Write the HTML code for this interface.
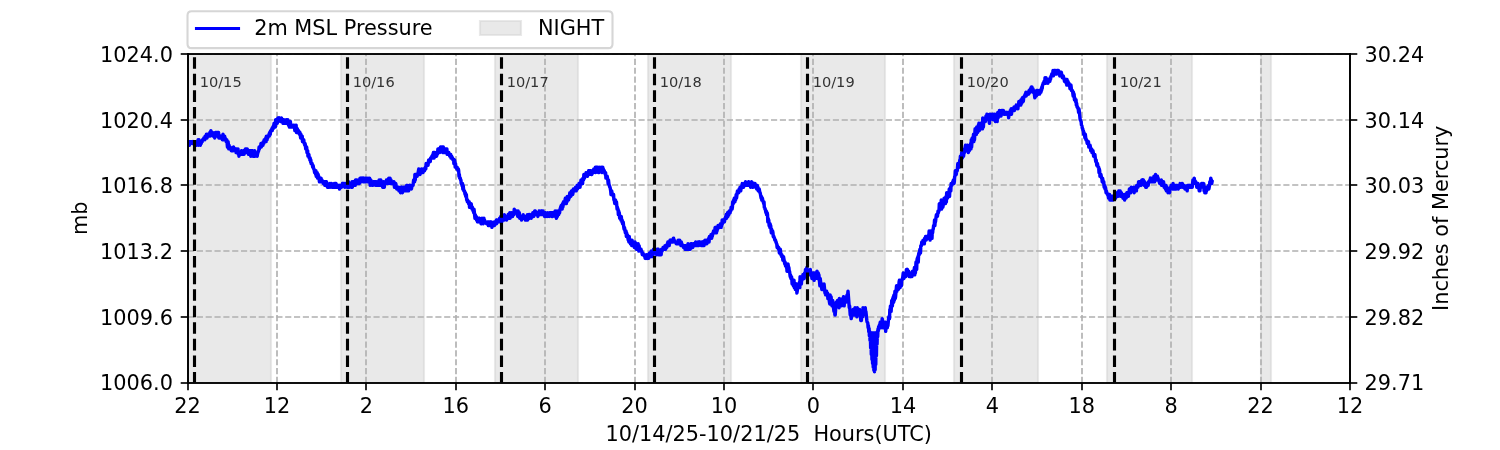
<!DOCTYPE html>
<html><head><meta charset="utf-8"><title>2m MSL Pressure</title>
<style>html,body{margin:0;padding:0;background:#fff;width:1500px;height:450px;overflow:hidden}svg{display:block;will-change:transform}
svg text{white-space:pre;font-family:"DejaVu Sans","Liberation Sans",sans-serif}</style></head>
<body>
<svg width="1500" height="450" viewBox="0 0 720 216" version="1.1">
 
 <defs>
  <style type="text/css">*{stroke-linejoin: round; stroke-linecap: butt}</style>
 </defs>
 <g id="figure_1">
  <g id="patch_1">
   <path d="M 0 216 L 720 216 L 720 0 L 0 0 z" style="fill: #ffffff"/>
  </g>
  <g id="axes_1">
   <g id="patch_2">
    <path d="M 90.24 183.84 L 648 183.84 L 648 25.92 L 90.24 25.92 z" style="fill: #ffffff"/>
   </g>
   <g id="patch_3">
    <path d="M 86.88 183.84 L 130.08 183.84 L 130.08 25.92 L 86.88 25.92 z" clip-path="url(#pb94ecb44f5)" style="fill: #d3d3d3; fill-opacity: 0.5; stroke: #d3d3d3; stroke-opacity: 0.5; stroke-linejoin: miter"/>
   </g>
   <g id="patch_4">
    <path d="M 163.68 183.84 L 203.52 183.84 L 203.52 25.92 L 163.68 25.92 z" clip-path="url(#pb94ecb44f5)" style="fill: #d3d3d3; fill-opacity: 0.5; stroke: #d3d3d3; stroke-opacity: 0.5; stroke-linejoin: miter"/>
   </g>
   <g id="patch_5">
    <path d="M 237.6 183.84 L 277.44 183.84 L 277.44 25.92 L 237.6 25.92 z" clip-path="url(#pb94ecb44f5)" style="fill: #d3d3d3; fill-opacity: 0.5; stroke: #d3d3d3; stroke-opacity: 0.5; stroke-linejoin: miter"/>
   </g>
   <g id="patch_6">
    <path d="M 311.04 183.84 L 350.88 183.84 L 350.88 25.92 L 311.04 25.92 z" clip-path="url(#pb94ecb44f5)" style="fill: #d3d3d3; fill-opacity: 0.5; stroke: #d3d3d3; stroke-opacity: 0.5; stroke-linejoin: miter"/>
   </g>
   <g id="patch_7">
    <path d="M 384.48 183.84 L 424.8 183.84 L 424.8 25.92 L 384.48 25.92 z" clip-path="url(#pb94ecb44f5)" style="fill: #d3d3d3; fill-opacity: 0.5; stroke: #d3d3d3; stroke-opacity: 0.5; stroke-linejoin: miter"/>
   </g>
   <g id="patch_8">
    <path d="M 457.92 183.84 L 498.24 183.84 L 498.24 25.92 L 457.92 25.92 z" clip-path="url(#pb94ecb44f5)" style="fill: #d3d3d3; fill-opacity: 0.5; stroke: #d3d3d3; stroke-opacity: 0.5; stroke-linejoin: miter"/>
   </g>
   <g id="patch_9">
    <path d="M 531.36 183.84 L 572.16 183.84 L 572.16 25.92 L 531.36 25.92 z" clip-path="url(#pb94ecb44f5)" style="fill: #d3d3d3; fill-opacity: 0.5; stroke: #d3d3d3; stroke-opacity: 0.5; stroke-linejoin: miter"/>
   </g>
   <g id="patch_10">
    <path d="M 605.28 183.84 L 610.08 183.84 L 610.08 25.92 L 605.28 25.92 z" clip-path="url(#pb94ecb44f5)" style="fill: #d3d3d3; fill-opacity: 0.5; stroke: #d3d3d3; stroke-opacity: 0.5; stroke-linejoin: miter"/>
   </g>
   <g id="matplotlib.axis_1">
    <g id="xtick_1">
     <g id="line2d_1">
      <path d="M 90.24 183.84 L 90.24 25.92" clip-path="url(#pb94ecb44f5)" style="fill: none; stroke-dasharray: 2.96,1.28; stroke-dashoffset: 0; stroke: #b0b0b0; stroke-width: 0.8"/>
     </g>
     <g id="line2d_2">
      <defs>
       <path id="m1504cfccaf" d="M 0 0 
L 0 3.5 
" style="stroke: #000000; stroke-width: 0.8"/>
      </defs>
      <g>
       <use href="#m1504cfccaf" x="90.24" y="183.84" style="stroke: #000000; stroke-width: 0.8"/>
      </g>
     </g>
     <g id="text_1">
      <text style="font-size: 10px; font-family: 'DejaVu Sans', 'Bitstream Vera Sans', 'Computer Modern Sans Serif', 'Lucida Grande', 'Verdana', 'Geneva', 'Lucid', 'Arial', 'Helvetica', 'Avant Garde', sans-serif; text-anchor: middle" x="90" y="198.198438" transform="rotate(-0 90 198.198438)">22</text>
     </g>
    </g>
    <g id="xtick_2">
     <g id="line2d_3">
      <path d="M 132.96 183.84 L 132.96 25.92" clip-path="url(#pb94ecb44f5)" style="fill: none; stroke-dasharray: 2.96,1.28; stroke-dashoffset: 0; stroke: #b0b0b0; stroke-width: 0.8"/>
     </g>
     <g id="line2d_4">
      <g>
       <use href="#m1504cfccaf" x="132.96" y="183.84" style="stroke: #000000; stroke-width: 0.8"/>
      </g>
     </g>
     <g id="text_2">
      <text style="font-size: 10px; font-family: 'DejaVu Sans', 'Bitstream Vera Sans', 'Computer Modern Sans Serif', 'Lucida Grande', 'Verdana', 'Geneva', 'Lucid', 'Arial', 'Helvetica', 'Avant Garde', sans-serif; text-anchor: middle" x="132.923077" y="198.198438" transform="rotate(-0 132.923077 198.198438)">12</text>
     </g>
    </g>
    <g id="xtick_3">
     <g id="line2d_5">
      <path d="M 175.68 183.84 L 175.68 25.92" clip-path="url(#pb94ecb44f5)" style="fill: none; stroke-dasharray: 2.96,1.28; stroke-dashoffset: 0; stroke: #b0b0b0; stroke-width: 0.8"/>
     </g>
     <g id="line2d_6">
      <g>
       <use href="#m1504cfccaf" x="175.68" y="183.84" style="stroke: #000000; stroke-width: 0.8"/>
      </g>
     </g>
     <g id="text_3">
      <text style="font-size: 10px; font-family: 'DejaVu Sans', 'Bitstream Vera Sans', 'Computer Modern Sans Serif', 'Lucida Grande', 'Verdana', 'Geneva', 'Lucid', 'Arial', 'Helvetica', 'Avant Garde', sans-serif; text-anchor: middle" x="175.846154" y="198.198438" transform="rotate(-0 175.846154 198.198438)">2</text>
     </g>
    </g>
    <g id="xtick_4">
     <g id="line2d_7">
      <path d="M 218.88 183.84 L 218.88 25.92" clip-path="url(#pb94ecb44f5)" style="fill: none; stroke-dasharray: 2.96,1.28; stroke-dashoffset: 0; stroke: #b0b0b0; stroke-width: 0.8"/>
     </g>
     <g id="line2d_8">
      <g>
       <use href="#m1504cfccaf" x="218.88" y="183.84" style="stroke: #000000; stroke-width: 0.8"/>
      </g>
     </g>
     <g id="text_4">
      <text style="font-size: 10px; font-family: 'DejaVu Sans', 'Bitstream Vera Sans', 'Computer Modern Sans Serif', 'Lucida Grande', 'Verdana', 'Geneva', 'Lucid', 'Arial', 'Helvetica', 'Avant Garde', sans-serif; text-anchor: middle" x="218.769231" y="198.198438" transform="rotate(-0 218.769231 198.198438)">16</text>
     </g>
    </g>
    <g id="xtick_5">
     <g id="line2d_9">
      <path d="M 261.6 183.84 L 261.6 25.92" clip-path="url(#pb94ecb44f5)" style="fill: none; stroke-dasharray: 2.96,1.28; stroke-dashoffset: 0; stroke: #b0b0b0; stroke-width: 0.8"/>
     </g>
     <g id="line2d_10">
      <g>
       <use href="#m1504cfccaf" x="261.6" y="183.84" style="stroke: #000000; stroke-width: 0.8"/>
      </g>
     </g>
     <g id="text_5">
      <text style="font-size: 10px; font-family: 'DejaVu Sans', 'Bitstream Vera Sans', 'Computer Modern Sans Serif', 'Lucida Grande', 'Verdana', 'Geneva', 'Lucid', 'Arial', 'Helvetica', 'Avant Garde', sans-serif; text-anchor: middle" x="261.692308" y="198.198438" transform="rotate(-0 261.692308 198.198438)">6</text>
     </g>
    </g>
    <g id="xtick_6">
     <g id="line2d_11">
      <path d="M 304.8 183.84 L 304.8 25.92" clip-path="url(#pb94ecb44f5)" style="fill: none; stroke-dasharray: 2.96,1.28; stroke-dashoffset: 0; stroke: #b0b0b0; stroke-width: 0.8"/>
     </g>
     <g id="line2d_12">
      <g>
       <use href="#m1504cfccaf" x="304.8" y="183.84" style="stroke: #000000; stroke-width: 0.8"/>
      </g>
     </g>
     <g id="text_6">
      <text style="font-size: 10px; font-family: 'DejaVu Sans', 'Bitstream Vera Sans', 'Computer Modern Sans Serif', 'Lucida Grande', 'Verdana', 'Geneva', 'Lucid', 'Arial', 'Helvetica', 'Avant Garde', sans-serif; text-anchor: middle" x="304.615385" y="198.198438" transform="rotate(-0 304.615385 198.198438)">20</text>
     </g>
    </g>
    <g id="xtick_7">
     <g id="line2d_13">
      <path d="M 347.52 183.84 L 347.52 25.92" clip-path="url(#pb94ecb44f5)" style="fill: none; stroke-dasharray: 2.96,1.28; stroke-dashoffset: 0; stroke: #b0b0b0; stroke-width: 0.8"/>
     </g>
     <g id="line2d_14">
      <g>
       <use href="#m1504cfccaf" x="347.52" y="183.84" style="stroke: #000000; stroke-width: 0.8"/>
      </g>
     </g>
     <g id="text_7">
      <text style="font-size: 10px; font-family: 'DejaVu Sans', 'Bitstream Vera Sans', 'Computer Modern Sans Serif', 'Lucida Grande', 'Verdana', 'Geneva', 'Lucid', 'Arial', 'Helvetica', 'Avant Garde', sans-serif; text-anchor: middle" x="347.538462" y="198.198438" transform="rotate(-0 347.538462 198.198438)">10</text>
     </g>
    </g>
    <g id="xtick_8">
     <g id="line2d_15">
      <path d="M 390.24 183.84 L 390.24 25.92" clip-path="url(#pb94ecb44f5)" style="fill: none; stroke-dasharray: 2.96,1.28; stroke-dashoffset: 0; stroke: #b0b0b0; stroke-width: 0.8"/>
     </g>
     <g id="line2d_16">
      <g>
       <use href="#m1504cfccaf" x="390.24" y="183.84" style="stroke: #000000; stroke-width: 0.8"/>
      </g>
     </g>
     <g id="text_8">
      <text style="font-size: 10px; font-family: 'DejaVu Sans', 'Bitstream Vera Sans', 'Computer Modern Sans Serif', 'Lucida Grande', 'Verdana', 'Geneva', 'Lucid', 'Arial', 'Helvetica', 'Avant Garde', sans-serif; text-anchor: middle" x="390.461538" y="198.198438" transform="rotate(-0 390.461538 198.198438)">0</text>
     </g>
    </g>
    <g id="xtick_9">
     <g id="line2d_17">
      <path d="M 433.44 183.84 L 433.44 25.92" clip-path="url(#pb94ecb44f5)" style="fill: none; stroke-dasharray: 2.96,1.28; stroke-dashoffset: 0; stroke: #b0b0b0; stroke-width: 0.8"/>
     </g>
     <g id="line2d_18">
      <g>
       <use href="#m1504cfccaf" x="433.44" y="183.84" style="stroke: #000000; stroke-width: 0.8"/>
      </g>
     </g>
     <g id="text_9">
      <text style="font-size: 10px; font-family: 'DejaVu Sans', 'Bitstream Vera Sans', 'Computer Modern Sans Serif', 'Lucida Grande', 'Verdana', 'Geneva', 'Lucid', 'Arial', 'Helvetica', 'Avant Garde', sans-serif; text-anchor: middle" x="433.384615" y="198.198438" transform="rotate(-0 433.384615 198.198438)">14</text>
     </g>
    </g>
    <g id="xtick_10">
     <g id="line2d_19">
      <path d="M 476.16 183.84 L 476.16 25.92" clip-path="url(#pb94ecb44f5)" style="fill: none; stroke-dasharray: 2.96,1.28; stroke-dashoffset: 0; stroke: #b0b0b0; stroke-width: 0.8"/>
     </g>
     <g id="line2d_20">
      <g>
       <use href="#m1504cfccaf" x="476.16" y="183.84" style="stroke: #000000; stroke-width: 0.8"/>
      </g>
     </g>
     <g id="text_10">
      <text style="font-size: 10px; font-family: 'DejaVu Sans', 'Bitstream Vera Sans', 'Computer Modern Sans Serif', 'Lucida Grande', 'Verdana', 'Geneva', 'Lucid', 'Arial', 'Helvetica', 'Avant Garde', sans-serif; text-anchor: middle" x="476.307692" y="198.198438" transform="rotate(-0 476.307692 198.198438)">4</text>
     </g>
    </g>
    <g id="xtick_11">
     <g id="line2d_21">
      <path d="M 519.36 183.84 L 519.36 25.92" clip-path="url(#pb94ecb44f5)" style="fill: none; stroke-dasharray: 2.96,1.28; stroke-dashoffset: 0; stroke: #b0b0b0; stroke-width: 0.8"/>
     </g>
     <g id="line2d_22">
      <g>
       <use href="#m1504cfccaf" x="519.36" y="183.84" style="stroke: #000000; stroke-width: 0.8"/>
      </g>
     </g>
     <g id="text_11">
      <text style="font-size: 10px; font-family: 'DejaVu Sans', 'Bitstream Vera Sans', 'Computer Modern Sans Serif', 'Lucida Grande', 'Verdana', 'Geneva', 'Lucid', 'Arial', 'Helvetica', 'Avant Garde', sans-serif; text-anchor: middle" x="519.230769" y="198.198438" transform="rotate(-0 519.230769 198.198438)">18</text>
     </g>
    </g>
    <g id="xtick_12">
     <g id="line2d_23">
      <path d="M 562.08 183.84 L 562.08 25.92" clip-path="url(#pb94ecb44f5)" style="fill: none; stroke-dasharray: 2.96,1.28; stroke-dashoffset: 0; stroke: #b0b0b0; stroke-width: 0.8"/>
     </g>
     <g id="line2d_24">
      <g>
       <use href="#m1504cfccaf" x="562.08" y="183.84" style="stroke: #000000; stroke-width: 0.8"/>
      </g>
     </g>
     <g id="text_12">
      <text style="font-size: 10px; font-family: 'DejaVu Sans', 'Bitstream Vera Sans', 'Computer Modern Sans Serif', 'Lucida Grande', 'Verdana', 'Geneva', 'Lucid', 'Arial', 'Helvetica', 'Avant Garde', sans-serif; text-anchor: middle" x="562.153846" y="198.198438" transform="rotate(-0 562.153846 198.198438)">8</text>
     </g>
    </g>
    <g id="xtick_13">
     <g id="line2d_25">
      <path d="M 605.28 183.84 L 605.28 25.92" clip-path="url(#pb94ecb44f5)" style="fill: none; stroke-dasharray: 2.96,1.28; stroke-dashoffset: 0; stroke: #b0b0b0; stroke-width: 0.8"/>
     </g>
     <g id="line2d_26">
      <g>
       <use href="#m1504cfccaf" x="605.28" y="183.84" style="stroke: #000000; stroke-width: 0.8"/>
      </g>
     </g>
     <g id="text_13">
      <text style="font-size: 10px; font-family: 'DejaVu Sans', 'Bitstream Vera Sans', 'Computer Modern Sans Serif', 'Lucida Grande', 'Verdana', 'Geneva', 'Lucid', 'Arial', 'Helvetica', 'Avant Garde', sans-serif; text-anchor: middle" x="605.076923" y="198.198438" transform="rotate(-0 605.076923 198.198438)">22</text>
     </g>
    </g>
    <g id="xtick_14">
     <g id="line2d_27">
      <path d="M 648 183.84 L 648 25.92" clip-path="url(#pb94ecb44f5)" style="fill: none; stroke-dasharray: 2.96,1.28; stroke-dashoffset: 0; stroke: #b0b0b0; stroke-width: 0.8"/>
     </g>
     <g id="line2d_28">
      <g>
       <use href="#m1504cfccaf" x="648" y="183.84" style="stroke: #000000; stroke-width: 0.8"/>
      </g>
     </g>
     <g id="text_14">
      <text style="font-size: 10px; font-family: 'DejaVu Sans', 'Bitstream Vera Sans', 'Computer Modern Sans Serif', 'Lucida Grande', 'Verdana', 'Geneva', 'Lucid', 'Arial', 'Helvetica', 'Avant Garde', sans-serif; text-anchor: middle" x="648" y="198.198438" transform="rotate(-0 648 198.198438)">12</text>
     </g>
    </g>
    <g id="text_15">
     <text style="font-size: 10px; font-family: 'DejaVu Sans', 'Bitstream Vera Sans', 'Computer Modern Sans Serif', 'Lucida Grande', 'Verdana', 'Geneva', 'Lucid', 'Arial', 'Helvetica', 'Avant Garde', sans-serif; text-anchor: middle" x="369" y="211.876563" transform="rotate(-0 369 211.876563)">10/14/25-10/21/25  Hours(UTC)</text>
    </g>
   </g>
   <g id="matplotlib.axis_2">
    <g id="ytick_1">
     <g id="line2d_29">
      <path d="M 90.24 183.84 L 648 183.84" clip-path="url(#pb94ecb44f5)" style="fill: none; stroke-dasharray: 2.96,1.28; stroke-dashoffset: 0; stroke: #b0b0b0; stroke-width: 0.8"/>
     </g>
     <g id="line2d_30">
      <defs>
       <path id="m5d545ce8f8" d="M 0 0 
L -3.5 0 
" style="stroke: #000000; stroke-width: 0.8"/>
      </defs>
      <g>
       <use href="#m5d545ce8f8" x="90.24" y="183.84" style="stroke: #000000; stroke-width: 0.8"/>
      </g>
     </g>
     <g id="text_16">
      <text style="font-size: 10px; font-family: 'DejaVu Sans', 'Bitstream Vera Sans', 'Computer Modern Sans Serif', 'Lucida Grande', 'Verdana', 'Geneva', 'Lucid', 'Arial', 'Helvetica', 'Avant Garde', sans-serif; text-anchor: end" x="83" y="187.399219" transform="rotate(-0 83 187.399219)">1006.0</text>
     </g>
    </g>
    <g id="ytick_2">
     <g id="line2d_31">
      <path d="M 90.24 152.16 L 648 152.16" clip-path="url(#pb94ecb44f5)" style="fill: none; stroke-dasharray: 2.96,1.28; stroke-dashoffset: 0; stroke: #b0b0b0; stroke-width: 0.8"/>
     </g>
     <g id="line2d_32">
      <g>
       <use href="#m5d545ce8f8" x="90.24" y="152.16" style="stroke: #000000; stroke-width: 0.8"/>
      </g>
     </g>
     <g id="text_17">
      <text style="font-size: 10px; font-family: 'DejaVu Sans', 'Bitstream Vera Sans', 'Computer Modern Sans Serif', 'Lucida Grande', 'Verdana', 'Geneva', 'Lucid', 'Arial', 'Helvetica', 'Avant Garde', sans-serif; text-anchor: end" x="83" y="155.863219" transform="rotate(-0 83 155.863219)">1009.6</text>
     </g>
    </g>
    <g id="ytick_3">
     <g id="line2d_33">
      <path d="M 90.24 120.48 L 648 120.48" clip-path="url(#pb94ecb44f5)" style="fill: none; stroke-dasharray: 2.96,1.28; stroke-dashoffset: 0; stroke: #b0b0b0; stroke-width: 0.8"/>
     </g>
     <g id="line2d_34">
      <g>
       <use href="#m5d545ce8f8" x="90.24" y="120.48" style="stroke: #000000; stroke-width: 0.8"/>
      </g>
     </g>
     <g id="text_18">
      <text style="font-size: 10px; font-family: 'DejaVu Sans', 'Bitstream Vera Sans', 'Computer Modern Sans Serif', 'Lucida Grande', 'Verdana', 'Geneva', 'Lucid', 'Arial', 'Helvetica', 'Avant Garde', sans-serif; text-anchor: end" x="83" y="124.327219" transform="rotate(-0 83 124.327219)">1013.2</text>
     </g>
    </g>
    <g id="ytick_4">
     <g id="line2d_35">
      <path d="M 90.24 88.8 L 648 88.8" clip-path="url(#pb94ecb44f5)" style="fill: none; stroke-dasharray: 2.96,1.28; stroke-dashoffset: 0; stroke: #b0b0b0; stroke-width: 0.8"/>
     </g>
     <g id="line2d_36">
      <g>
       <use href="#m5d545ce8f8" x="90.24" y="88.8" style="stroke: #000000; stroke-width: 0.8"/>
      </g>
     </g>
     <g id="text_19">
      <text style="font-size: 10px; font-family: 'DejaVu Sans', 'Bitstream Vera Sans', 'Computer Modern Sans Serif', 'Lucida Grande', 'Verdana', 'Geneva', 'Lucid', 'Arial', 'Helvetica', 'Avant Garde', sans-serif; text-anchor: end" x="83" y="92.791219" transform="rotate(-0 83 92.791219)">1016.8</text>
     </g>
    </g>
    <g id="ytick_5">
     <g id="line2d_37">
      <path d="M 90.24 57.6 L 648 57.6" clip-path="url(#pb94ecb44f5)" style="fill: none; stroke-dasharray: 2.96,1.28; stroke-dashoffset: 0; stroke: #b0b0b0; stroke-width: 0.8"/>
     </g>
     <g id="line2d_38">
      <g>
       <use href="#m5d545ce8f8" x="90.24" y="57.6" style="stroke: #000000; stroke-width: 0.8"/>
      </g>
     </g>
     <g id="text_20">
      <text style="font-size: 10px; font-family: 'DejaVu Sans', 'Bitstream Vera Sans', 'Computer Modern Sans Serif', 'Lucida Grande', 'Verdana', 'Geneva', 'Lucid', 'Arial', 'Helvetica', 'Avant Garde', sans-serif; text-anchor: end" x="83" y="61.255219" transform="rotate(-0 83 61.255219)">1020.4</text>
     </g>
    </g>
    <g id="ytick_6">
     <g id="line2d_39">
      <path d="M 90.24 25.92 L 648 25.92" clip-path="url(#pb94ecb44f5)" style="fill: none; stroke-dasharray: 2.96,1.28; stroke-dashoffset: 0; stroke: #b0b0b0; stroke-width: 0.8"/>
     </g>
     <g id="line2d_40">
      <g>
       <use href="#m5d545ce8f8" x="90.24" y="25.92" style="stroke: #000000; stroke-width: 0.8"/>
      </g>
     </g>
     <g id="text_21">
      <text style="font-size: 10px; font-family: 'DejaVu Sans', 'Bitstream Vera Sans', 'Computer Modern Sans Serif', 'Lucida Grande', 'Verdana', 'Geneva', 'Lucid', 'Arial', 'Helvetica', 'Avant Garde', sans-serif; text-anchor: end" x="83" y="29.719219" transform="rotate(-0 83 29.719219)">1024.0</text>
     </g>
    </g>
    <g id="text_22">
     <text style="font-size: 10px; font-family: 'DejaVu Sans', 'Bitstream Vera Sans', 'Computer Modern Sans Serif', 'Lucida Grande', 'Verdana', 'Geneva', 'Lucid', 'Arial', 'Helvetica', 'Avant Garde', sans-serif; text-anchor: middle" x="41.929688" y="104.76" transform="rotate(-90 41.929688 104.76)">mb</text>
    </g>
   </g>
   <g id="line2d_41">
    <path d="M 90.480207 67.968 
L 90.7868 67.968 
L 90.940097 69.72 
L 91.093393 67.968 
L 91.24669 67.968 
L 91.399987 68.844 
L 91.553283 67.968 
L 92.16647 67.968 
L 92.319767 68.844 
L 92.62636 68.844 
L 92.779657 67.968 
L 92.932954 68.844 
L 93.699437 68.844 
L 93.852734 67.968 
L 94.006031 67.968 
L 94.159327 69.72 
L 94.312624 69.72 
L 94.465921 68.844 
L 94.925811 68.844 
L 95.079108 67.092 
L 95.232404 69.72 
L 95.385701 68.844 
L 95.538998 67.092 
L 95.692294 67.968 
L 95.845591 67.968 
L 96.152185 69.72 
L 96.305481 67.968 
L 96.458778 67.968 
L 96.612075 68.844 
L 96.765371 67.968 
L 97.071965 67.968 
L 97.225261 67.092 
L 97.685152 67.092 
L 97.838448 66.216 
L 98.145042 66.216 
L 98.298338 67.092 
L 98.451635 65.34 
L 98.604932 66.216 
L 98.758229 65.34 
L 98.911525 66.216 
L 99.064822 64.464 
L 99.371415 66.216 
L 99.524712 65.34 
L 99.678009 65.34 
L 99.831305 64.464 
L 99.984602 65.34 
L 100.137899 65.34 
L 100.291196 64.464 
L 100.597789 64.464 
L 100.751086 63.588 
L 100.904382 65.34 
L 101.210976 62.712 
L 101.364272 64.464 
L 101.517569 64.464 
L 101.670866 63.588 
L 101.824163 64.464 
L 101.977459 63.588 
L 102.284053 65.34 
L 102.437349 64.464 
L 102.590646 65.34 
L 102.743943 64.464 
L 102.89724 64.464 
L 103.050536 66.216 
L 103.203833 65.34 
L 103.35713 63.588 
L 103.510426 63.588 
L 103.663723 65.34 
L 103.970316 63.588 
L 104.27691 63.588 
L 104.430207 64.464 
L 104.7368 64.464 
L 104.890097 63.588 
L 105.043393 66.216 
L 105.19669 65.34 
L 105.349987 65.34 
L 105.503283 66.216 
L 105.65658 65.34 
L 105.809877 66.216 
L 105.963174 65.34 
L 106.11647 66.216 
L 106.269767 65.34 
L 106.423064 65.34 
L 106.729657 67.092 
L 106.882954 67.092 
L 107.03625 64.464 
L 107.342844 67.092 
L 107.496141 66.216 
L 107.649437 66.216 
L 107.802734 65.34 
L 107.956031 66.216 
L 108.109327 66.216 
L 108.262624 67.092 
L 108.415921 67.092 
L 108.569218 67.968 
L 108.722514 67.092 
L 108.875811 67.092 
L 109.182404 70.596 
L 109.488998 67.968 
L 109.795591 71.472 
L 109.948888 69.72 
L 110.102185 71.472 
L 110.408778 71.472 
L 110.562075 70.596 
L 110.715371 71.472 
L 110.868668 71.472 
L 111.021965 72.348 
L 111.481855 72.348 
L 111.635152 71.472 
L 111.788448 72.348 
L 111.941745 72.348 
L 112.095042 70.596 
L 112.248338 71.472 
L 112.554932 71.472 
L 112.708229 72.348 
L 112.861525 72.348 
L 113.014822 71.472 
L 113.168119 71.472 
L 113.321415 73.224 
L 113.474712 71.472 
L 113.628009 73.224 
L 114.087899 73.224 
L 114.241196 71.472 
L 114.394492 74.1 
L 114.547789 73.224 
L 114.701086 74.976 
L 114.854382 73.224 
L 115.007679 73.224 
L 115.160976 74.1 
L 115.467569 74.1 
L 115.620866 73.224 
L 115.774163 73.224 
L 115.927459 72.348 
L 116.234053 74.1 
L 116.387349 73.224 
L 116.84724 73.224 
L 117.000536 72.348 
L 117.153833 74.1 
L 117.30713 72.348 
L 117.460426 73.224 
L 117.613723 73.224 
L 117.76702 71.472 
L 118.073613 71.472 
L 118.380207 73.224 
L 118.533503 71.472 
L 118.6868 71.472 
L 118.840097 73.224 
L 118.993393 73.224 
L 119.14669 72.348 
L 119.299987 74.1 
L 119.453283 72.348 
L 119.60658 73.224 
L 119.759877 72.348 
L 119.913174 72.348 
L 120.06647 74.1 
L 120.219767 73.224 
L 120.373064 74.976 
L 120.52636 72.348 
L 120.679657 73.224 
L 120.832954 73.224 
L 120.98625 74.1 
L 121.139547 72.348 
L 121.292844 72.348 
L 121.446141 74.976 
L 121.599437 73.224 
L 121.752734 74.976 
L 121.906031 74.1 
L 122.059327 74.976 
L 122.212624 72.348 
L 122.365921 74.976 
L 122.672514 73.224 
L 122.825811 74.1 
L 123.285701 74.1 
L 123.438998 74.976 
L 123.745591 73.224 
L 123.898888 73.224 
L 124.052185 72.348 
L 124.205481 72.348 
L 124.358778 70.596 
L 124.512075 71.472 
L 124.665371 70.596 
L 125.125261 70.596 
L 125.278558 68.844 
L 125.431855 70.596 
L 125.738448 68.844 
L 126.045042 68.844 
L 126.198338 69.72 
L 126.351635 67.968 
L 126.504932 67.968 
L 126.658229 68.844 
L 126.811525 67.092 
L 126.964822 67.968 
L 127.118119 67.968 
L 127.271415 67.092 
L 127.424712 67.092 
L 127.578009 66.216 
L 127.731305 67.968 
L 127.884602 65.34 
L 128.191196 67.092 
L 128.344492 65.34 
L 128.497789 66.216 
L 128.651086 65.34 
L 128.957679 65.34 
L 129.110976 64.464 
L 129.264272 65.34 
L 129.417569 63.588 
L 129.570866 64.464 
L 129.724163 64.464 
L 129.877459 62.712 
L 130.337349 62.712 
L 130.490646 61.836 
L 130.643943 62.712 
L 130.950536 60.96 
L 131.103833 61.836 
L 131.563723 59.208 
L 131.71702 60.96 
L 132.023613 59.208 
L 132.17691 60.96 
L 132.330207 57.456 
L 132.483503 59.208 
L 132.6368 59.208 
L 132.790097 57.456 
L 133.09669 59.208 
L 133.403283 56.58 
L 133.55658 57.456 
L 133.709877 56.58 
L 133.863174 56.58 
L 134.01647 57.456 
L 134.169767 56.58 
L 134.323064 57.456 
L 134.47636 57.456 
L 134.629657 58.332 
L 134.782954 57.456 
L 134.93625 58.332 
L 135.089547 56.58 
L 135.242844 57.456 
L 135.396141 57.456 
L 135.549437 58.332 
L 135.702734 58.332 
L 135.856031 59.208 
L 136.162624 57.456 
L 136.469218 59.208 
L 136.622514 58.332 
L 136.775811 59.208 
L 136.929108 59.208 
L 137.082404 58.332 
L 137.235701 59.208 
L 137.388998 57.456 
L 137.542294 58.332 
L 137.848888 58.332 
L 138.002185 59.208 
L 138.155481 57.456 
L 138.462075 60.084 
L 138.615371 59.208 
L 138.768668 59.208 
L 138.921965 60.96 
L 139.075261 59.208 
L 139.228558 60.96 
L 139.381855 58.332 
L 139.535152 60.084 
L 139.688448 60.084 
L 139.841745 60.96 
L 139.995042 60.96 
L 140.148338 60.084 
L 140.301635 60.96 
L 140.761525 60.96 
L 140.914822 60.084 
L 141.068119 60.084 
L 141.221415 60.96 
L 141.374712 60.96 
L 141.528009 62.712 
L 141.681305 60.96 
L 141.834602 61.836 
L 142.141196 60.084 
L 142.294492 63.588 
L 142.447789 61.836 
L 142.601086 63.588 
L 142.754382 61.836 
L 142.907679 63.588 
L 143.214272 63.588 
L 143.367569 62.712 
L 143.674163 64.464 
L 143.827459 64.464 
L 143.980756 63.588 
L 144.134053 64.464 
L 144.287349 66.216 
L 144.440646 64.464 
L 144.593943 65.34 
L 144.74724 65.34 
L 144.900536 66.216 
L 145.053833 65.34 
L 145.20713 67.968 
L 145.360426 67.092 
L 145.513723 67.968 
L 145.66702 67.092 
L 145.820316 67.092 
L 145.973613 68.844 
L 146.12691 68.844 
L 146.280207 69.72 
L 146.433503 68.844 
L 146.5868 69.72 
L 146.740097 71.472 
L 146.893393 70.596 
L 147.199987 70.596 
L 147.353283 73.224 
L 147.50658 73.224 
L 147.659877 72.348 
L 147.813174 74.976 
L 147.96647 74.976 
L 148.119767 74.1 
L 148.273064 74.1 
L 148.42636 75.852 
L 148.579657 75.852 
L 148.732954 76.728 
L 148.88625 75.852 
L 149.039547 77.604 
L 149.192844 76.728 
L 149.346141 78.48 
L 149.806031 78.48 
L 150.112624 80.232 
L 150.265921 79.356 
L 150.572514 81.108 
L 150.725811 81.108 
L 151.032404 82.86 
L 151.185701 81.984 
L 151.338998 81.984 
L 151.492294 83.736 
L 151.645591 81.984 
L 151.798888 84.612 
L 151.952185 83.736 
L 152.105481 83.736 
L 152.258778 82.86 
L 152.412075 85.488 
L 152.565371 83.736 
L 152.718668 83.736 
L 152.871965 84.612 
L 153.025261 84.612 
L 153.331855 87.24 
L 153.485152 85.488 
L 153.638448 87.24 
L 153.791745 86.364 
L 153.945042 87.24 
L 154.098338 85.488 
L 154.404932 87.24 
L 154.558229 86.364 
L 154.711525 87.24 
L 155.018119 87.24 
L 155.171415 88.116 
L 155.324712 87.24 
L 155.478009 87.24 
L 155.631305 88.116 
L 155.784602 87.24 
L 155.937899 88.992 
L 156.091196 88.116 
L 156.244492 88.116 
L 156.397789 87.24 
L 156.551086 88.992 
L 156.704382 87.24 
L 156.857679 88.992 
L 157.010976 88.992 
L 157.164272 89.868 
L 157.317569 88.992 
L 157.470866 88.992 
L 157.624163 89.868 
L 158.084053 89.868 
L 158.237349 88.116 
L 158.390646 88.116 
L 158.543943 88.992 
L 158.69724 88.992 
L 158.850536 89.868 
L 159.003833 88.992 
L 159.15713 88.992 
L 159.310426 88.116 
L 159.61702 89.868 
L 159.770316 88.992 
L 159.923613 89.868 
L 160.230207 89.868 
L 160.5368 88.116 
L 160.690097 89.868 
L 160.843393 88.116 
L 160.99669 88.116 
L 161.149987 89.868 
L 161.303283 88.116 
L 161.609877 89.868 
L 161.763174 88.992 
L 161.91647 89.868 
L 162.223064 89.868 
L 162.37636 88.992 
L 162.529657 88.992 
L 162.682954 89.868 
L 162.83625 88.992 
L 162.989547 90.744 
L 163.142844 88.992 
L 163.756031 88.992 
L 163.909327 89.868 
L 164.062624 88.992 
L 164.215921 88.992 
L 164.369218 88.116 
L 164.522514 88.992 
L 164.675811 88.116 
L 164.829108 88.992 
L 164.982404 88.116 
L 165.135701 88.116 
L 165.442294 89.868 
L 165.595591 89.868 
L 165.902185 88.116 
L 166.055481 88.992 
L 166.362075 88.992 
L 166.515371 88.116 
L 166.668668 89.868 
L 166.821965 88.992 
L 166.975261 88.992 
L 167.128558 89.868 
L 167.281855 87.24 
L 167.435152 89.868 
L 167.741745 89.868 
L 167.895042 88.116 
L 168.048338 88.992 
L 168.201635 88.116 
L 168.508229 88.116 
L 168.661525 89.868 
L 168.814822 88.992 
L 168.968119 87.24 
L 169.121415 89.868 
L 169.581305 87.24 
L 169.734602 88.116 
L 169.887899 87.24 
L 170.041196 88.992 
L 170.194492 87.24 
L 170.347789 87.24 
L 170.501086 88.992 
L 170.654382 86.364 
L 170.807679 86.364 
L 170.960976 88.116 
L 171.267569 86.364 
L 171.420866 88.116 
L 171.727459 88.116 
L 171.880756 87.24 
L 172.034053 87.24 
L 172.187349 86.364 
L 172.340646 86.364 
L 172.493943 88.116 
L 172.800536 85.488 
L 173.10713 85.488 
L 173.260426 86.364 
L 173.413723 85.488 
L 173.56702 87.24 
L 173.720316 85.488 
L 173.873613 86.364 
L 174.02691 85.488 
L 174.333503 87.24 
L 174.640097 85.488 
L 174.793393 87.24 
L 174.94669 86.364 
L 175.099987 87.24 
L 175.253283 87.24 
L 175.40658 85.488 
L 175.713174 85.488 
L 175.86647 86.364 
L 176.173064 86.364 
L 176.32636 87.24 
L 176.479657 85.488 
L 176.632954 85.488 
L 176.939547 87.24 
L 177.246141 87.24 
L 177.399437 85.488 
L 177.706031 88.992 
L 178.012624 86.364 
L 178.165921 87.24 
L 178.472514 87.24 
L 178.625811 88.992 
L 178.932404 88.992 
L 179.238998 87.24 
L 179.392294 87.24 
L 179.545591 88.116 
L 179.698888 87.24 
L 179.852185 88.116 
L 180.005481 88.116 
L 180.158778 87.24 
L 180.312075 88.992 
L 180.618668 88.992 
L 180.771965 87.24 
L 180.925261 88.992 
L 181.078558 88.116 
L 181.231855 88.116 
L 181.385152 88.992 
L 181.538448 88.992 
L 181.691745 88.116 
L 181.845042 88.116 
L 181.998338 86.364 
L 182.151635 87.24 
L 182.304932 88.992 
L 182.764822 86.364 
L 182.918119 88.116 
L 183.071415 88.116 
L 183.224712 87.24 
L 183.684602 89.868 
L 183.837899 88.992 
L 183.991196 87.24 
L 184.144492 89.868 
L 184.297789 88.116 
L 184.451086 89.868 
L 184.757679 87.24 
L 184.910976 88.116 
L 185.064272 87.24 
L 185.370866 87.24 
L 185.524163 86.364 
L 185.677459 87.24 
L 185.830756 87.24 
L 185.984053 88.116 
L 186.137349 88.116 
L 186.290646 86.364 
L 186.443943 87.24 
L 186.59724 85.488 
L 186.750536 85.488 
L 186.903833 87.24 
L 187.05713 87.24 
L 187.210426 85.488 
L 187.363723 88.116 
L 187.670316 86.364 
L 187.823613 88.116 
L 188.130207 88.116 
L 188.283503 87.24 
L 188.4368 88.116 
L 188.89669 88.116 
L 189.049987 87.24 
L 189.35658 89.868 
L 189.81647 89.868 
L 189.969767 88.116 
L 190.429657 90.744 
L 190.582954 89.868 
L 190.73625 89.868 
L 190.889547 90.744 
L 191.196141 90.744 
L 191.349437 89.868 
L 191.502734 91.62 
L 191.656031 90.744 
L 191.809327 91.62 
L 191.962624 90.744 
L 192.269218 92.496 
L 192.575811 89.868 
L 192.729108 90.744 
L 192.882404 89.868 
L 193.035701 90.744 
L 193.188998 92.496 
L 193.342294 90.744 
L 193.495591 90.744 
L 193.648888 91.62 
L 193.802185 89.868 
L 193.955481 90.744 
L 194.108778 90.744 
L 194.262075 89.868 
L 194.415371 91.62 
L 194.568668 89.868 
L 194.721965 91.62 
L 194.875261 89.868 
L 195.028558 91.62 
L 195.181855 88.992 
L 195.335152 89.868 
L 195.488448 88.992 
L 195.641745 90.744 
L 195.795042 90.744 
L 195.948338 89.868 
L 196.101635 91.62 
L 196.254932 90.744 
L 196.408229 88.992 
L 196.561525 89.868 
L 196.714822 88.992 
L 196.868119 89.868 
L 197.021415 88.992 
L 197.328009 90.744 
L 197.481305 90.744 
L 197.787899 88.992 
L 198.247789 88.992 
L 198.554382 86.364 
L 198.707679 87.24 
L 199.014272 87.24 
L 199.167569 83.736 
L 199.320866 86.364 
L 199.474163 83.736 
L 199.627459 83.736 
L 199.780756 84.612 
L 199.934053 84.612 
L 200.087349 83.736 
L 200.240646 84.612 
L 200.393943 83.736 
L 200.54724 83.736 
L 201.00713 81.108 
L 201.160426 82.86 
L 201.313723 81.984 
L 201.46702 83.736 
L 201.620316 83.736 
L 201.773613 82.86 
L 201.92691 82.86 
L 202.080207 81.984 
L 202.233503 81.984 
L 202.3868 81.108 
L 202.540097 81.984 
L 202.693393 81.984 
L 202.84669 82.86 
L 202.999987 82.86 
L 203.30658 81.108 
L 203.459877 81.984 
L 203.613174 81.108 
L 203.76647 81.984 
L 203.919767 81.108 
L 204.073064 81.108 
L 204.22636 80.232 
L 204.379657 81.108 
L 204.532954 78.48 
L 204.68625 79.356 
L 204.839547 78.48 
L 204.992844 78.48 
L 205.146141 79.356 
L 205.299437 78.48 
L 205.452734 79.356 
L 205.759327 76.728 
L 205.912624 76.728 
L 206.065921 77.604 
L 206.219218 76.728 
L 206.372514 76.728 
L 206.525811 77.604 
L 206.679108 75.852 
L 207.138998 75.852 
L 207.292294 74.976 
L 207.445591 75.852 
L 207.598888 75.852 
L 207.752185 74.1 
L 207.905481 74.1 
L 208.058778 73.224 
L 208.365371 75.852 
L 208.518668 73.224 
L 208.671965 73.224 
L 208.978558 74.976 
L 209.131855 74.1 
L 209.285152 74.976 
L 209.438448 73.224 
L 209.591745 74.976 
L 209.745042 73.224 
L 209.898338 74.1 
L 210.051635 73.224 
L 210.204932 71.472 
L 210.358229 73.224 
L 210.511525 71.472 
L 210.664822 73.224 
L 210.971415 73.224 
L 211.124712 71.472 
L 211.278009 72.348 
L 211.431305 70.596 
L 211.584602 72.348 
L 211.737899 72.348 
L 212.044492 70.596 
L 212.197789 70.596 
L 212.504382 73.224 
L 212.657679 73.224 
L 212.810976 70.596 
L 212.964272 72.348 
L 213.270866 72.348 
L 213.424163 73.224 
L 213.577459 73.224 
L 213.730756 71.472 
L 213.884053 71.472 
L 214.190646 73.224 
L 214.49724 71.472 
L 214.650536 74.1 
L 214.803833 73.224 
L 215.41702 73.224 
L 215.570316 74.1 
L 215.723613 74.1 
L 215.87691 74.976 
L 216.030207 74.1 
L 216.183503 74.976 
L 216.3368 74.1 
L 216.490097 75.852 
L 216.643393 75.852 
L 216.79669 74.976 
L 216.949987 75.852 
L 217.25658 75.852 
L 217.409877 76.728 
L 217.71647 76.728 
L 217.869767 78.48 
L 218.17636 76.728 
L 218.329657 77.604 
L 218.482954 80.232 
L 218.63625 78.48 
L 218.789547 80.232 
L 219.096141 80.232 
L 219.249437 81.108 
L 219.402734 80.232 
L 219.556031 81.108 
L 219.709327 81.108 
L 219.862624 81.984 
L 220.015921 81.108 
L 220.169218 81.984 
L 220.322514 84.612 
L 220.475811 83.736 
L 220.629108 85.488 
L 220.935701 85.488 
L 221.088998 86.364 
L 221.242294 86.364 
L 221.395591 88.116 
L 221.548888 88.116 
L 221.702185 88.992 
L 221.855481 88.116 
L 222.008778 88.116 
L 222.162075 90.744 
L 222.315371 88.992 
L 222.621965 91.62 
L 222.928558 91.62 
L 223.235152 93.372 
L 223.388448 92.496 
L 223.541745 94.248 
L 223.695042 93.372 
L 223.848338 93.372 
L 224.001635 96 
L 224.154932 96 
L 224.308229 96.876 
L 224.461525 96 
L 224.614822 96.876 
L 224.768119 96.876 
L 224.921415 97.752 
L 225.074712 96.876 
L 225.228009 96.876 
L 225.381305 99.504 
L 225.534602 98.628 
L 225.841196 98.628 
L 225.994492 99.504 
L 226.147789 97.752 
L 226.607679 100.38 
L 226.760976 99.504 
L 227.067569 101.256 
L 227.220866 101.256 
L 227.374163 102.132 
L 227.527459 100.38 
L 227.987349 104.76 
L 228.140646 103.008 
L 228.293943 104.76 
L 228.44724 104.76 
L 228.600536 103.884 
L 228.753833 105.636 
L 228.90713 104.76 
L 229.060426 104.76 
L 229.213723 106.512 
L 229.36702 105.636 
L 229.520316 106.512 
L 229.82691 104.76 
L 229.980207 106.512 
L 230.133503 104.76 
L 230.440097 106.512 
L 230.593393 105.636 
L 230.74669 105.636 
L 230.899987 107.388 
L 231.053283 105.636 
L 231.20658 107.388 
L 231.359877 104.76 
L 231.66647 106.512 
L 231.819767 105.636 
L 231.973064 107.388 
L 232.12636 106.512 
L 232.279657 104.76 
L 232.432954 106.512 
L 232.58625 105.636 
L 232.739547 106.512 
L 233.352734 106.512 
L 233.506031 107.388 
L 233.812624 107.388 
L 233.965921 106.512 
L 234.272514 106.512 
L 234.425811 108.264 
L 234.579108 106.512 
L 234.885701 108.264 
L 235.192294 106.512 
L 235.345591 107.388 
L 235.498888 106.512 
L 235.805481 106.512 
L 235.958778 107.388 
L 236.112075 109.14 
L 236.418668 107.388 
L 236.571965 108.264 
L 236.725261 107.388 
L 236.878558 107.388 
L 237.031855 108.264 
L 237.185152 106.512 
L 237.338448 108.264 
L 237.491745 106.512 
L 237.645042 107.388 
L 237.798338 107.388 
L 237.951635 106.512 
L 238.104932 107.388 
L 238.258229 105.636 
L 238.411525 107.388 
L 238.564822 105.636 
L 238.718119 106.512 
L 239.178009 106.512 
L 239.331305 105.636 
L 239.484602 106.512 
L 239.637899 106.512 
L 239.791196 104.76 
L 240.097789 104.76 
L 240.251086 105.636 
L 240.404382 103.884 
L 240.557679 106.512 
L 240.864272 106.512 
L 241.017569 104.76 
L 241.170866 104.76 
L 241.324163 103.884 
L 241.477459 103.884 
L 241.784053 105.636 
L 241.937349 105.636 
L 242.090646 103.008 
L 242.243943 103.884 
L 242.39724 103.884 
L 242.550536 104.76 
L 243.010426 104.76 
L 243.163723 105.636 
L 243.31702 103.884 
L 243.77691 103.884 
L 243.930207 103.008 
L 244.083503 103.884 
L 244.2368 103.008 
L 244.390097 104.76 
L 244.543393 104.76 
L 244.69669 102.132 
L 244.849987 104.76 
L 245.15658 103.008 
L 245.309877 103.884 
L 245.463174 102.132 
L 245.61647 103.884 
L 246.07636 103.884 
L 246.229657 102.132 
L 246.53625 102.132 
L 246.689547 103.008 
L 246.842844 100.38 
L 246.996141 102.132 
L 247.149437 101.256 
L 247.302734 101.256 
L 247.456031 102.132 
L 247.762624 102.132 
L 247.915921 101.256 
L 248.069218 102.132 
L 248.222514 102.132 
L 248.529108 103.884 
L 248.682404 101.256 
L 248.835701 103.008 
L 249.142294 103.008 
L 249.295591 102.132 
L 249.448888 104.76 
L 249.602185 103.884 
L 249.908778 103.884 
L 250.062075 104.76 
L 250.215371 103.884 
L 250.368668 105.636 
L 250.521965 103.884 
L 250.828558 103.884 
L 250.981855 104.76 
L 251.135152 103.008 
L 251.288448 104.76 
L 251.748338 104.76 
L 251.901635 103.884 
L 252.054932 103.884 
L 252.208229 105.636 
L 252.514822 103.884 
L 252.821415 103.884 
L 252.974712 105.636 
L 253.128009 103.008 
L 253.281305 105.636 
L 253.587899 103.008 
L 253.741196 103.008 
L 253.894492 103.884 
L 254.047789 103.008 
L 254.201086 104.76 
L 254.507679 103.008 
L 254.660976 103.884 
L 254.814272 103.884 
L 254.967569 104.76 
L 255.120866 103.008 
L 255.274163 103.008 
L 255.427459 103.884 
L 255.580756 103.884 
L 255.734053 102.132 
L 255.887349 103.008 
L 256.040646 103.008 
L 256.193943 103.884 
L 256.34724 103.008 
L 256.500536 103.008 
L 256.653833 101.256 
L 256.80713 103.008 
L 256.960426 101.256 
L 257.113723 103.008 
L 257.26702 103.008 
L 257.420316 102.132 
L 257.573613 102.132 
L 257.72691 103.008 
L 257.880207 102.132 
L 258.033503 102.132 
L 258.1868 103.884 
L 258.340097 102.132 
L 258.64669 102.132 
L 258.799987 101.256 
L 258.953283 103.008 
L 259.10658 102.132 
L 259.413174 102.132 
L 259.56647 103.008 
L 259.719767 101.256 
L 259.873064 103.008 
L 260.02636 101.256 
L 260.179657 103.008 
L 260.332954 103.008 
L 260.639547 101.256 
L 260.946141 103.008 
L 261.099437 102.132 
L 261.406031 103.884 
L 261.559327 103.008 
L 261.712624 103.008 
L 261.865921 102.132 
L 262.019218 103.884 
L 262.172514 103.008 
L 262.632404 103.008 
L 262.785701 103.884 
L 262.938998 102.132 
L 263.092294 103.008 
L 263.552185 103.008 
L 263.705481 103.884 
L 264.012075 102.132 
L 264.165371 103.008 
L 264.318668 102.132 
L 264.625261 102.132 
L 264.931855 103.884 
L 265.085152 102.132 
L 265.391745 103.884 
L 265.545042 102.132 
L 265.698338 103.008 
L 265.851635 102.132 
L 266.004932 103.008 
L 266.311525 103.008 
L 266.464822 101.256 
L 266.618119 103.884 
L 266.771415 103.008 
L 266.924712 103.008 
L 267.078009 104.76 
L 267.231305 103.884 
L 267.384602 101.256 
L 267.537899 103.884 
L 267.691196 102.132 
L 267.844492 103.008 
L 268.151086 103.008 
L 268.457679 101.256 
L 268.610976 102.132 
L 268.764272 100.38 
L 268.917569 100.38 
L 269.070866 99.504 
L 269.224163 100.38 
L 269.377459 98.628 
L 269.530756 98.628 
L 269.837349 100.38 
L 269.990646 97.752 
L 270.143943 99.504 
L 270.29724 98.628 
L 270.450536 96.876 
L 270.603833 96.876 
L 270.75713 97.752 
L 270.910426 96.876 
L 271.063723 96.876 
L 271.370316 95.124 
L 271.523613 97.752 
L 271.67691 95.124 
L 271.830207 97.752 
L 271.983503 96 
L 272.1368 96.876 
L 272.290097 94.248 
L 272.59669 96 
L 272.903283 96 
L 273.05658 95.124 
L 273.209877 95.124 
L 273.363174 94.248 
L 273.51647 92.496 
L 273.823064 94.248 
L 273.97636 94.248 
L 274.129657 93.372 
L 274.282954 91.62 
L 274.43625 92.496 
L 274.589547 92.496 
L 274.742844 91.62 
L 274.896141 93.372 
L 275.049437 92.496 
L 275.202734 90.744 
L 275.356031 91.62 
L 275.509327 91.62 
L 275.662624 90.744 
L 275.815921 91.62 
L 275.969218 91.62 
L 276.275811 89.868 
L 276.582404 91.62 
L 277.042294 88.992 
L 277.195591 90.744 
L 277.348888 89.868 
L 277.502185 89.868 
L 277.655481 88.992 
L 277.808778 88.992 
L 277.962075 88.116 
L 278.268668 89.868 
L 278.421965 89.868 
L 278.575261 88.116 
L 278.728558 88.116 
L 278.881855 86.364 
L 279.035152 86.364 
L 279.188448 88.116 
L 279.341745 87.24 
L 279.495042 88.116 
L 279.648338 88.116 
L 279.801635 85.488 
L 279.954932 85.488 
L 280.108229 86.364 
L 280.261525 83.736 
L 280.414822 85.488 
L 280.568119 85.488 
L 280.721415 83.736 
L 281.181305 83.736 
L 281.334602 82.86 
L 281.487899 83.736 
L 281.641196 83.736 
L 281.794492 84.612 
L 281.947789 84.612 
L 282.101086 82.86 
L 282.254382 83.736 
L 282.560976 81.984 
L 282.714272 83.736 
L 283.020866 81.984 
L 283.174163 82.86 
L 283.327459 81.984 
L 283.480756 81.984 
L 283.787349 83.736 
L 284.093943 83.736 
L 284.24724 82.86 
L 284.553833 82.86 
L 284.70713 81.984 
L 284.860426 82.86 
L 285.013723 81.108 
L 285.16702 81.984 
L 285.62691 81.984 
L 285.780207 80.232 
L 285.933503 82.86 
L 286.240097 80.232 
L 286.393393 81.108 
L 286.54669 81.108 
L 286.699987 80.232 
L 286.853283 81.984 
L 287.00658 81.984 
L 287.159877 81.108 
L 287.313174 82.86 
L 287.46647 82.86 
L 287.619767 80.232 
L 287.773064 81.108 
L 287.92636 81.108 
L 288.079657 81.984 
L 288.232954 81.108 
L 288.38625 81.984 
L 288.539547 80.232 
L 288.692844 81.108 
L 288.846141 81.108 
L 288.999437 82.86 
L 289.306031 80.232 
L 289.459327 81.108 
L 289.612624 81.108 
L 289.765921 81.984 
L 290.072514 81.984 
L 290.225811 82.86 
L 290.379108 82.86 
L 290.532404 83.736 
L 290.685701 82.86 
L 290.838998 85.488 
L 290.992294 84.612 
L 291.145591 85.488 
L 291.298888 84.612 
L 291.452185 84.612 
L 291.758778 86.364 
L 291.912075 88.116 
L 292.065371 86.364 
L 292.371965 88.992 
L 292.525261 88.992 
L 292.678558 89.868 
L 292.831855 89.868 
L 293.138448 91.62 
L 293.291745 93.372 
L 293.445042 91.62 
L 293.598338 91.62 
L 293.904932 93.372 
L 294.211525 93.372 
L 294.364822 94.248 
L 294.518119 93.372 
L 294.671415 96 
L 294.824712 96 
L 295.131305 97.752 
L 295.284602 97.752 
L 295.437899 96 
L 295.744492 97.752 
L 295.897789 96.876 
L 296.204382 100.38 
L 296.357679 99.504 
L 296.510976 100.38 
L 296.664272 100.38 
L 296.817569 103.008 
L 296.970866 101.256 
L 297.124163 103.008 
L 297.277459 102.132 
L 297.430756 104.76 
L 297.584053 103.884 
L 297.890646 103.884 
L 298.043943 105.636 
L 298.19724 103.884 
L 298.503833 106.512 
L 298.65713 105.636 
L 298.810426 107.388 
L 298.963723 106.512 
L 299.11702 106.512 
L 299.423613 109.14 
L 299.57691 110.016 
L 299.730207 109.14 
L 300.190097 111.768 
L 300.343393 110.892 
L 300.49669 110.892 
L 300.649987 113.52 
L 300.803283 111.768 
L 300.95658 113.52 
L 301.109877 112.644 
L 301.569767 115.272 
L 301.723064 115.272 
L 301.87636 116.148 
L 302.029657 113.52 
L 302.182954 115.272 
L 302.489547 115.272 
L 302.642844 117.024 
L 302.796141 115.272 
L 303.102734 115.272 
L 303.256031 117.9 
L 303.409327 115.272 
L 303.715921 117.9 
L 304.022514 117.9 
L 304.175811 117.024 
L 304.482404 118.776 
L 304.635701 117.9 
L 304.788998 116.148 
L 304.942294 117.9 
L 305.248888 117.9 
L 305.402185 117.024 
L 305.555481 119.652 
L 305.708778 117.024 
L 305.862075 119.652 
L 306.015371 118.776 
L 306.168668 118.776 
L 306.321965 117.024 
L 306.628558 120.528 
L 306.781855 117.9 
L 306.935152 119.652 
L 307.701635 119.652 
L 307.854932 120.528 
L 308.008229 120.528 
L 308.314822 122.28 
L 308.468119 122.28 
L 308.621415 121.404 
L 308.774712 122.28 
L 309.234602 122.28 
L 309.387899 123.156 
L 309.541196 123.156 
L 309.694492 124.032 
L 309.847789 124.032 
L 310.001086 123.156 
L 310.154382 124.032 
L 310.307679 122.28 
L 310.460976 124.032 
L 310.614272 123.156 
L 310.767569 124.032 
L 310.920866 123.156 
L 311.074163 123.156 
L 311.227459 122.28 
L 311.380756 124.032 
L 311.687349 121.404 
L 311.840646 121.404 
L 311.993943 122.28 
L 312.14724 122.28 
L 312.300536 123.156 
L 312.60713 120.528 
L 312.913723 123.156 
L 313.220316 120.528 
L 313.373613 123.156 
L 313.680207 119.652 
L 313.833503 120.528 
L 314.293393 120.528 
L 314.44669 121.404 
L 314.599987 121.404 
L 314.753283 120.528 
L 314.90658 121.404 
L 315.059877 120.528 
L 315.213174 122.28 
L 315.36647 119.652 
L 315.519767 119.652 
L 315.673064 120.528 
L 315.82636 120.528 
L 315.979657 119.652 
L 316.132954 122.28 
L 316.746141 122.28 
L 316.899437 121.404 
L 317.052734 121.404 
L 317.206031 122.28 
L 317.359327 122.28 
L 317.512624 119.652 
L 317.665921 120.528 
L 317.819218 120.528 
L 317.972514 119.652 
L 318.125811 119.652 
L 318.279108 118.776 
L 318.432404 118.776 
L 318.585701 119.652 
L 319.045591 119.652 
L 319.198888 117.9 
L 319.505481 119.652 
L 319.658778 118.776 
L 319.812075 118.776 
L 319.965371 117.9 
L 320.118668 118.776 
L 320.271965 117.024 
L 320.425261 117.024 
L 320.578558 116.148 
L 321.038448 116.148 
L 321.191745 117.9 
L 321.651635 115.272 
L 321.804932 116.148 
L 321.958229 115.272 
L 322.111525 116.148 
L 322.264822 116.148 
L 322.418119 115.272 
L 322.571415 116.148 
L 322.724712 115.272 
L 322.878009 115.272 
L 323.031305 116.148 
L 323.184602 114.396 
L 323.337899 114.396 
L 323.491196 115.272 
L 323.644492 115.272 
L 323.797789 116.148 
L 324.410976 116.148 
L 324.564272 117.024 
L 324.870866 117.024 
L 325.024163 116.148 
L 325.177459 117.024 
L 325.330756 117.024 
L 325.484053 115.272 
L 325.637349 115.272 
L 325.790646 117.024 
L 325.943943 116.148 
L 326.09724 117.024 
L 326.250536 115.272 
L 326.403833 117.024 
L 326.55713 117.024 
L 326.710426 116.148 
L 326.863723 117.9 
L 327.01702 116.148 
L 327.170316 117.9 
L 327.323613 117.024 
L 327.47691 117.9 
L 327.9368 117.9 
L 328.090097 118.776 
L 328.243393 117.9 
L 328.703283 117.9 
L 328.85658 119.652 
L 329.009877 117.9 
L 329.163174 117.9 
L 329.31647 119.652 
L 329.469767 117.9 
L 329.623064 117.9 
L 329.77636 119.652 
L 329.929657 119.652 
L 330.082954 118.776 
L 330.23625 117.024 
L 330.542844 119.652 
L 330.696141 118.776 
L 330.849437 119.652 
L 331.156031 117.9 
L 331.309327 119.652 
L 331.615921 117.024 
L 331.922514 118.776 
L 332.075811 117.024 
L 332.229108 118.776 
L 332.535701 118.776 
L 332.842294 117.024 
L 332.995591 117.9 
L 333.148888 117.024 
L 333.455481 117.024 
L 333.608778 117.9 
L 333.762075 117.9 
L 333.915371 116.148 
L 334.068668 117.9 
L 334.835152 117.9 
L 334.988448 116.148 
L 335.141745 116.148 
L 335.295042 117.9 
L 335.601635 116.148 
L 335.754932 117.024 
L 335.908229 116.148 
L 336.061525 117.024 
L 336.521415 117.024 
L 336.674712 117.9 
L 336.981305 116.148 
L 337.134602 116.148 
L 337.287899 117.024 
L 337.441196 116.148 
L 337.594492 116.148 
L 337.747789 117.9 
L 337.901086 117.9 
L 338.054382 116.148 
L 338.207679 117.024 
L 338.360976 115.272 
L 338.514272 115.272 
L 338.667569 117.024 
L 338.820866 117.024 
L 339.127459 115.272 
L 339.280756 117.024 
L 339.434053 115.272 
L 339.740646 115.272 
L 339.893943 116.148 
L 340.200536 114.396 
L 340.353833 116.148 
L 340.50713 113.52 
L 340.660426 114.396 
L 340.96702 114.396 
L 341.273613 112.644 
L 341.580207 114.396 
L 341.733503 112.644 
L 341.8868 113.52 
L 342.193393 111.768 
L 342.34669 111.768 
L 342.499987 110.892 
L 342.653283 111.768 
L 342.80658 110.892 
L 342.959877 111.768 
L 343.26647 109.14 
L 343.419767 110.016 
L 343.573064 109.14 
L 343.879657 111.768 
L 344.032954 110.892 
L 344.18625 110.892 
L 344.339547 110.016 
L 344.492844 110.016 
L 344.646141 108.264 
L 344.952734 108.264 
L 345.106031 109.14 
L 345.259327 109.14 
L 345.412624 108.264 
L 345.719218 108.264 
L 345.872514 107.388 
L 346.179108 109.14 
L 346.332404 108.264 
L 346.485701 108.264 
L 346.638998 105.636 
L 346.792294 107.388 
L 347.098888 105.636 
L 347.252185 105.636 
L 347.405481 106.512 
L 347.712075 106.512 
L 348.018668 104.76 
L 348.171965 104.76 
L 348.325261 103.884 
L 348.478558 103.884 
L 348.631855 103.008 
L 348.785152 104.76 
L 349.245042 102.132 
L 349.398338 103.884 
L 349.704932 102.132 
L 349.858229 103.008 
L 350.011525 101.256 
L 350.318119 101.256 
L 350.471415 102.132 
L 350.624712 101.256 
L 350.778009 101.256 
L 350.931305 99.504 
L 351.084602 100.38 
L 351.391196 100.38 
L 351.544492 99.504 
L 351.697789 96.876 
L 351.851086 96.876 
L 352.004382 97.752 
L 352.157679 96 
L 352.310976 96 
L 352.464272 95.124 
L 352.770866 96.876 
L 352.924163 96 
L 353.077459 96 
L 353.384053 93.372 
L 353.537349 95.124 
L 353.843943 92.496 
L 353.99724 91.62 
L 354.303833 91.62 
L 354.45713 92.496 
L 354.610426 92.496 
L 354.763723 90.744 
L 354.91702 91.62 
L 355.070316 91.62 
L 355.223613 89.868 
L 355.530207 91.62 
L 355.8368 89.868 
L 355.990097 89.868 
L 356.29669 88.116 
L 356.449987 89.868 
L 356.603283 89.868 
L 356.75658 88.992 
L 356.909877 89.868 
L 357.063174 88.992 
L 357.21647 88.992 
L 357.369767 88.116 
L 357.523064 88.992 
L 357.67636 88.992 
L 357.829657 87.24 
L 357.982954 88.992 
L 358.596141 88.992 
L 358.749437 88.116 
L 358.902734 88.992 
L 359.056031 88.992 
L 359.362624 87.24 
L 359.669218 88.992 
L 359.822514 88.116 
L 360.129108 88.116 
L 360.282404 89.868 
L 360.435701 88.116 
L 360.588998 88.992 
L 360.742294 87.24 
L 360.895591 88.116 
L 361.048888 89.868 
L 361.202185 89.868 
L 361.355481 88.116 
L 361.508778 89.868 
L 361.662075 88.116 
L 361.815371 88.992 
L 361.968668 88.116 
L 362.121965 88.992 
L 362.275261 88.116 
L 362.428558 88.116 
L 362.581855 89.868 
L 362.735152 89.868 
L 362.888448 88.992 
L 363.195042 90.744 
L 363.501635 88.992 
L 363.654932 90.744 
L 363.808229 89.868 
L 363.961525 91.62 
L 364.114822 90.744 
L 364.268119 91.62 
L 364.421415 90.744 
L 364.728009 92.496 
L 364.881305 92.496 
L 365.341196 95.124 
L 365.494492 94.248 
L 365.647789 96 
L 365.801086 95.124 
L 365.954382 95.124 
L 366.260976 96.876 
L 366.414272 96.876 
L 366.567569 97.752 
L 366.720866 96.876 
L 366.874163 99.504 
L 367.027459 99.504 
L 367.180756 100.38 
L 367.334053 100.38 
L 367.640646 102.132 
L 367.793943 101.256 
L 367.94724 103.008 
L 368.100536 103.008 
L 368.253833 102.132 
L 368.40713 103.008 
L 368.560426 106.512 
L 368.713723 104.76 
L 368.86702 105.636 
L 369.020316 105.636 
L 369.173613 108.264 
L 369.32691 107.388 
L 369.480207 109.14 
L 369.633503 107.388 
L 369.7868 108.264 
L 369.940097 108.264 
L 370.24669 111.768 
L 370.399987 110.016 
L 370.70658 111.768 
L 370.859877 110.892 
L 371.013174 111.768 
L 371.16647 113.52 
L 371.473064 113.52 
L 371.62636 114.396 
L 371.779657 114.396 
L 371.932954 115.272 
L 372.239547 115.272 
L 372.392844 116.148 
L 372.546141 116.148 
L 372.699437 117.024 
L 372.852734 117.024 
L 373.006031 118.776 
L 373.159327 117.9 
L 373.312624 118.776 
L 373.465921 118.776 
L 373.619218 119.652 
L 373.772514 118.776 
L 373.925811 119.652 
L 374.079108 121.404 
L 374.232404 120.528 
L 374.385701 121.404 
L 374.538998 119.652 
L 374.845591 122.28 
L 374.998888 122.28 
L 375.152185 123.156 
L 375.305481 122.28 
L 375.458778 123.156 
L 375.612075 123.156 
L 375.765371 124.908 
L 376.071965 123.156 
L 376.685152 126.66 
L 376.838448 125.784 
L 376.991745 127.536 
L 377.145042 126.66 
L 377.451635 128.412 
L 377.604932 126.66 
L 377.758229 130.164 
L 377.911525 128.412 
L 378.064822 130.164 
L 378.218119 126.66 
L 378.371415 127.536 
L 378.524712 129.288 
L 378.678009 128.412 
L 378.831305 130.164 
L 378.984602 130.164 
L 379.291196 132.792 
L 379.444492 131.916 
L 379.597789 133.668 
L 379.751086 133.668 
L 379.904382 132.792 
L 380.057679 133.668 
L 380.210976 136.296 
L 380.364272 134.544 
L 380.517569 135.42 
L 380.670866 135.42 
L 380.824163 137.172 
L 380.977459 134.544 
L 381.130756 134.544 
L 381.284053 138.048 
L 381.437349 136.296 
L 381.590646 136.296 
L 381.743943 138.924 
L 381.89724 138.048 
L 382.050536 136.296 
L 382.203833 137.172 
L 382.35713 136.296 
L 382.510426 140.676 
L 382.663723 139.8 
L 382.970316 137.172 
L 383.583503 137.172 
L 383.7368 135.42 
L 383.890097 138.048 
L 384.043393 132.792 
L 384.349987 136.296 
L 384.503283 133.668 
L 384.65658 136.296 
L 384.809877 133.668 
L 384.963174 134.544 
L 385.11647 132.792 
L 385.269767 132.792 
L 385.423064 131.916 
L 385.57636 133.668 
L 385.729657 132.792 
L 385.882954 132.792 
L 386.03625 133.668 
L 386.189547 131.04 
L 386.342844 131.04 
L 386.496141 132.792 
L 386.649437 129.288 
L 386.802734 129.288 
L 386.956031 131.916 
L 387.262624 128.412 
L 387.415921 129.288 
L 387.569218 131.916 
L 387.722514 131.916 
L 387.875811 131.04 
L 388.335701 131.04 
L 388.488998 130.164 
L 388.642294 131.916 
L 388.795591 131.916 
L 388.948888 129.288 
L 389.102185 131.916 
L 389.255481 131.04 
L 389.408778 131.916 
L 389.562075 131.916 
L 389.715371 133.668 
L 389.868668 131.916 
L 390.021965 132.792 
L 390.328558 131.04 
L 390.481855 132.792 
L 390.635152 131.916 
L 390.788448 134.544 
L 391.095042 131.04 
L 391.401635 133.668 
L 391.554932 131.916 
L 391.708229 132.792 
L 392.014822 132.792 
L 392.168119 130.164 
L 392.321415 133.668 
L 392.474712 132.792 
L 392.628009 133.668 
L 392.781305 131.04 
L 392.934602 133.668 
L 393.087899 131.916 
L 393.547789 137.172 
L 393.701086 133.668 
L 394.007679 136.296 
L 394.160976 137.172 
L 394.314272 137.172 
L 394.467569 138.924 
L 394.620866 136.296 
L 395.080756 138.924 
L 395.234053 138.048 
L 395.387349 138.924 
L 395.540646 136.296 
L 396.000536 140.676 
L 396.153833 139.8 
L 396.30713 141.552 
L 396.460426 139.8 
L 396.76702 139.8 
L 397.073613 141.552 
L 397.22691 140.676 
L 397.380207 143.304 
L 397.6868 141.552 
L 397.840097 142.428 
L 398.14669 145.056 
L 398.299987 145.932 
L 398.453283 141.552 
L 398.60658 145.932 
L 398.759877 145.056 
L 398.913174 142.428 
L 399.06647 144.18 
L 399.219767 144.18 
L 399.373064 146.808 
L 399.679657 144.18 
L 399.832954 146.808 
L 399.98625 146.808 
L 400.292844 149.436 
L 400.446141 149.436 
L 400.599437 148.56 
L 400.752734 151.188 
L 400.906031 151.188 
L 401.365921 145.056 
L 401.519218 145.056 
L 401.672514 146.808 
L 401.979108 144.18 
L 402.285701 145.932 
L 402.438998 145.056 
L 402.592294 145.932 
L 402.745591 147.684 
L 402.898888 143.304 
L 403.052185 146.808 
L 403.205481 145.932 
L 403.512075 145.932 
L 403.665371 145.056 
L 403.818668 146.808 
L 403.971965 144.18 
L 404.125261 145.056 
L 404.278558 145.056 
L 404.431855 143.304 
L 404.738448 143.304 
L 404.891745 142.428 
L 405.198338 146.808 
L 405.351635 144.18 
L 405.658229 144.18 
L 405.811525 145.056 
L 405.964822 145.056 
L 406.118119 142.428 
L 406.271415 142.428 
L 406.424712 144.18 
L 406.578009 141.552 
L 406.884602 141.552 
L 407.037899 139.8 
L 407.651086 147.684 
L 407.804382 146.808 
L 408.110976 151.188 
L 408.264272 150.312 
L 408.570866 152.94 
L 408.724163 152.064 
L 409.030756 149.436 
L 409.184053 151.188 
L 409.490646 148.56 
L 409.79724 151.188 
L 409.950536 151.188 
L 410.103833 150.312 
L 410.25713 151.188 
L 410.410426 147.684 
L 410.563723 151.188 
L 410.71702 149.436 
L 410.870316 150.312 
L 411.023613 149.436 
L 411.330207 152.064 
L 411.483503 147.684 
L 411.6368 150.312 
L 411.790097 150.312 
L 412.09669 148.56 
L 412.55658 148.56 
L 412.863174 150.312 
L 413.169767 153.816 
L 413.323064 152.064 
L 413.47636 153.816 
L 413.629657 151.188 
L 413.782954 151.188 
L 413.93625 150.312 
L 414.089547 152.064 
L 414.242844 147.684 
L 414.396141 151.188 
L 414.549437 149.436 
L 414.702734 149.436 
L 414.856031 150.312 
L 415.009327 149.436 
L 415.162624 149.436 
L 415.315921 147.684 
L 415.469218 149.436 
L 415.622514 149.436 
L 416.082404 153.816 
L 416.235701 154.692 
L 416.388998 154.692 
L 416.542294 155.129178 
L 416.695591 157.293547 
L 416.848888 156.355551 
L 417.002185 159.214564 
L 417.155481 157.617406 
L 417.308778 161.25852 
L 417.462075 159.150373 
L 417.615371 163.384457 
L 417.768668 159.84 
L 417.921965 167.063577 
L 418.075261 159.84 
L 418.228558 170.148466 
L 418.381855 159.84 
L 418.535152 172.601213 
L 418.688448 159.84 
L 418.841745 174.49047 
L 418.995042 159.84 
L 419.148338 176.221692 
L 419.301635 159.84 
L 419.454932 177.754659 
L 419.608229 159.84 
L 419.761525 178.425036 
L 419.914822 159.84 
L 420.068119 177.499407 
L 420.221415 159.84 
L 420.374712 174.9561 
L 420.528009 159.84 
L 420.681305 170.775756 
L 420.834602 159.84 
L 420.987899 165.265214 
L 421.141196 159.115218 
L 421.294492 161.586093 
L 421.447789 157.888844 
L 421.601086 158.873486 
L 421.754382 156.811235 
L 421.907679 157.033926 
L 422.060976 156.198048 
L 422.214272 156.077183 
L 422.367569 155.584862 
L 422.520866 154.692 
L 422.827459 157.32 
L 422.980756 155.568 
L 423.134053 156.444 
L 423.287349 156.444 
L 423.440646 152.94 
L 423.593943 153.816 
L 423.900536 157.32 
L 424.053833 157.32 
L 424.360426 154.692 
L 424.513723 156.444 
L 424.66702 155.568 
L 424.820316 155.568 
L 424.973613 154.692 
L 425.12691 159.072 
L 425.280207 156.444 
L 425.433503 156.444 
L 425.5868 155.568 
L 425.740097 155.568 
L 425.893393 157.32 
L 426.04669 155.568 
L 426.199987 156.444 
L 426.50658 152.94 
L 426.659877 152.064 
L 426.813174 152.94 
L 426.96647 152.94 
L 427.119767 148.56 
L 427.273064 149.436 
L 427.42636 146.808 
L 427.579657 147.684 
L 427.732954 149.436 
L 428.039547 144.18 
L 428.346141 146.808 
L 428.499437 143.304 
L 428.652734 143.304 
L 428.806031 142.428 
L 428.959327 145.056 
L 429.112624 141.552 
L 429.265921 144.18 
L 429.572514 139.8 
L 429.725811 143.304 
L 429.879108 142.428 
L 430.338998 137.172 
L 430.492294 139.8 
L 430.645591 138.048 
L 431.105481 138.048 
L 431.258778 138.924 
L 431.565371 135.42 
L 431.718668 134.544 
L 431.871965 135.42 
L 432.025261 138.048 
L 432.178558 137.172 
L 432.331855 135.42 
L 432.485152 135.42 
L 432.638448 137.172 
L 432.791745 134.544 
L 432.945042 134.544 
L 433.098338 133.668 
L 433.251635 133.668 
L 433.558229 131.04 
L 433.711525 131.916 
L 433.864822 133.668 
L 434.018119 132.792 
L 434.171415 132.792 
L 434.324712 131.916 
L 434.631305 131.916 
L 434.784602 132.792 
L 435.091196 129.288 
L 435.244492 129.288 
L 435.397789 130.164 
L 435.551086 129.288 
L 435.857679 131.916 
L 436.164272 130.164 
L 436.317569 131.04 
L 436.470866 132.792 
L 436.624163 131.04 
L 436.777459 131.04 
L 437.084053 132.792 
L 437.237349 131.916 
L 437.390646 132.792 
L 437.69724 132.792 
L 437.850536 131.916 
L 438.003833 130.164 
L 438.310426 130.164 
L 438.463723 131.916 
L 438.770316 130.164 
L 438.923613 128.412 
L 439.07691 131.916 
L 439.230207 128.412 
L 439.383503 131.04 
L 439.690097 125.784 
L 439.99669 129.288 
L 440.149987 124.908 
L 440.303283 124.032 
L 440.45658 124.908 
L 440.609877 123.156 
L 440.763174 125.784 
L 440.91647 122.28 
L 441.069767 121.404 
L 441.223064 122.28 
L 441.37636 121.404 
L 441.529657 119.652 
L 441.682954 119.652 
L 441.83625 121.404 
L 441.989547 117.9 
L 442.296141 117.9 
L 442.449437 116.148 
L 442.756031 116.148 
L 442.909327 117.024 
L 443.062624 115.272 
L 443.215921 117.024 
L 443.369218 115.272 
L 443.522514 117.024 
L 443.675811 117.024 
L 443.829108 114.396 
L 444.135701 114.396 
L 444.288998 113.52 
L 444.442294 113.52 
L 444.595591 115.272 
L 444.748888 113.52 
L 444.902185 113.52 
L 445.055481 114.396 
L 445.208778 113.52 
L 445.362075 114.396 
L 445.668668 114.396 
L 445.821965 113.52 
L 445.975261 110.892 
L 446.128558 114.396 
L 446.281855 112.644 
L 446.435152 115.272 
L 446.588448 110.892 
L 446.741745 112.644 
L 446.895042 112.644 
L 447.048338 110.892 
L 447.201635 110.892 
L 447.354932 114.396 
L 447.508229 110.892 
L 447.661525 111.768 
L 447.814822 110.016 
L 447.968119 110.016 
L 448.121415 108.264 
L 448.428009 108.264 
L 448.581305 105.636 
L 448.734602 108.264 
L 448.887899 106.512 
L 449.041196 106.512 
L 449.347789 103.884 
L 449.501086 103.008 
L 449.807679 103.008 
L 449.960976 103.884 
L 450.267569 101.256 
L 450.420866 102.132 
L 450.574163 101.256 
L 450.727459 101.256 
L 450.880756 97.752 
L 451.034053 99.504 
L 451.187349 98.628 
L 451.340646 99.504 
L 451.64724 99.504 
L 451.800536 96 
L 451.953833 100.38 
L 452.10713 97.752 
L 452.413723 97.752 
L 452.56702 99.504 
L 452.720316 98.628 
L 452.873613 96 
L 453.02691 97.752 
L 453.180207 95.124 
L 453.333503 96 
L 453.4868 96 
L 453.640097 95.124 
L 453.793393 97.752 
L 453.94669 96.876 
L 454.099987 94.248 
L 454.253283 96.876 
L 454.40658 92.496 
L 454.559877 95.124 
L 454.713174 94.248 
L 454.86647 95.124 
L 455.019767 93.372 
L 455.173064 94.248 
L 455.32636 93.372 
L 455.479657 94.248 
L 455.632954 90.744 
L 455.78625 94.248 
L 455.939547 90.744 
L 456.092844 90.744 
L 456.246141 89.868 
L 456.399437 91.62 
L 456.552734 88.116 
L 456.706031 88.116 
L 456.859327 88.992 
L 457.012624 88.116 
L 457.165921 88.116 
L 457.319218 87.24 
L 457.472514 88.116 
L 457.625811 86.364 
L 457.779108 86.364 
L 457.932404 88.116 
L 458.085701 87.24 
L 458.238998 84.612 
L 458.392294 84.612 
L 458.545591 81.984 
L 458.852185 83.736 
L 459.005481 83.736 
L 459.158778 81.984 
L 459.465371 81.984 
L 459.771965 78.48 
L 460.078558 80.232 
L 460.231855 78.48 
L 460.538448 80.232 
L 460.691745 76.728 
L 460.845042 77.604 
L 460.998338 74.976 
L 461.304932 76.728 
L 461.611525 73.224 
L 461.918119 75.852 
L 462.071415 74.976 
L 462.531305 74.976 
L 462.837899 71.472 
L 462.991196 73.224 
L 463.297789 70.596 
L 463.451086 69.72 
L 463.604382 72.348 
L 463.757679 72.348 
L 463.910976 70.596 
L 464.064272 71.472 
L 464.370866 69.72 
L 464.524163 72.348 
L 464.677459 71.472 
L 464.830756 73.224 
L 464.984053 72.348 
L 465.290646 72.348 
L 465.443943 71.472 
L 465.59724 71.472 
L 465.903833 68.844 
L 466.05713 71.472 
L 466.210426 67.092 
L 466.363723 70.596 
L 466.670316 66.216 
L 466.823613 67.968 
L 466.97691 67.092 
L 467.130207 67.092 
L 467.283503 64.464 
L 467.4368 67.968 
L 467.590097 66.216 
L 467.743393 67.092 
L 468.049987 61.836 
L 468.203283 61.836 
L 468.35658 62.712 
L 468.509877 62.712 
L 468.663174 64.464 
L 468.81647 60.96 
L 468.969767 61.836 
L 469.123064 63.588 
L 469.27636 63.588 
L 469.429657 62.712 
L 469.582954 60.084 
L 469.73625 60.084 
L 469.889547 59.208 
L 470.042844 62.712 
L 470.196141 61.836 
L 470.349437 59.208 
L 470.502734 60.084 
L 470.656031 59.208 
L 470.809327 61.836 
L 471.115921 60.084 
L 471.422514 60.084 
L 471.575811 61.836 
L 471.729108 56.58 
L 472.035701 60.96 
L 472.188998 57.456 
L 472.342294 58.332 
L 472.495591 57.456 
L 472.648888 58.332 
L 472.955481 58.332 
L 473.262075 55.704 
L 473.415371 56.58 
L 473.721965 54.828 
L 473.875261 56.58 
L 474.028558 55.704 
L 474.181855 55.704 
L 474.335152 56.58 
L 474.488448 56.58 
L 474.948338 59.208 
L 475.101635 54.828 
L 475.408229 57.456 
L 475.561525 54.828 
L 475.868119 56.58 
L 476.021415 55.704 
L 476.174712 56.58 
L 476.328009 56.58 
L 476.481305 54.828 
L 476.634602 55.704 
L 476.787899 57.456 
L 477.094492 54.828 
L 477.401086 57.456 
L 477.554382 54.828 
L 477.860976 58.332 
L 478.167569 54.828 
L 478.320866 55.704 
L 478.474163 54.828 
L 478.627459 58.332 
L 478.934053 53.952 
L 479.087349 56.58 
L 479.240646 53.952 
L 479.393943 54.828 
L 479.54724 54.828 
L 479.700536 53.076 
L 479.853833 55.704 
L 480.00713 55.704 
L 480.160426 54.828 
L 480.313723 54.828 
L 480.46702 55.704 
L 480.620316 53.076 
L 480.773613 53.952 
L 481.233503 53.952 
L 481.3868 53.076 
L 481.540097 53.952 
L 481.693393 53.076 
L 481.84669 54.828 
L 481.999987 53.952 
L 482.153283 53.952 
L 482.30658 54.828 
L 482.613174 54.828 
L 482.76647 53.952 
L 483.073064 53.952 
L 483.22636 54.828 
L 483.379657 53.952 
L 483.532954 53.952 
L 483.68625 54.828 
L 483.992844 54.828 
L 484.146141 56.58 
L 484.452734 53.952 
L 484.606031 53.952 
L 484.759327 54.828 
L 484.912624 53.076 
L 485.065921 54.828 
L 485.219218 53.952 
L 485.372514 52.2 
L 485.525811 54.828 
L 485.679108 53.076 
L 486.138998 53.076 
L 486.292294 52.2 
L 486.445591 53.076 
L 486.598888 53.076 
L 486.752185 51.324 
L 486.905481 53.076 
L 487.058778 51.324 
L 487.212075 51.324 
L 487.365371 52.2 
L 487.518668 51.324 
L 487.671965 51.324 
L 487.825261 50.448 
L 487.978558 51.324 
L 488.285152 51.324 
L 488.438448 50.448 
L 488.591745 52.2 
L 488.745042 50.448 
L 488.898338 50.448 
L 489.051635 48.696 
L 489.204932 48.696 
L 489.358229 49.572 
L 489.511525 48.696 
L 489.818119 50.448 
L 489.971415 50.448 
L 490.124712 47.82 
L 490.278009 47.82 
L 490.431305 49.572 
L 490.737899 46.944 
L 490.891196 47.82 
L 491.044492 46.944 
L 491.197789 48.696 
L 491.351086 46.944 
L 491.504382 46.944 
L 491.657679 46.068 
L 491.964272 46.068 
L 492.117569 45.192 
L 492.270866 46.068 
L 492.424163 44.316 
L 492.577459 46.068 
L 492.730756 45.192 
L 493.037349 45.192 
L 493.190646 44.316 
L 493.650536 44.316 
L 493.803833 45.192 
L 493.95713 43.44 
L 494.110426 43.44 
L 494.263723 44.316 
L 494.41702 44.316 
L 494.570316 42.564 
L 494.723613 42.564 
L 494.87691 43.44 
L 495.030207 41.688 
L 495.3368 41.688 
L 495.490097 43.44 
L 495.643393 43.44 
L 495.79669 42.564 
L 495.949987 44.316 
L 496.103283 44.316 
L 496.25658 43.44 
L 496.409877 44.316 
L 496.71647 46.944 
L 496.869767 45.192 
L 497.023064 46.068 
L 497.17636 45.192 
L 497.329657 45.192 
L 497.482954 46.068 
L 497.63625 43.44 
L 497.789547 44.316 
L 497.942844 43.44 
L 498.096141 43.44 
L 498.249437 44.316 
L 498.402734 44.316 
L 498.556031 45.192 
L 498.709327 44.316 
L 498.862624 45.192 
L 499.015921 45.192 
L 499.169218 43.44 
L 499.475811 43.44 
L 499.629108 44.316 
L 499.782404 42.564 
L 499.935701 43.44 
L 500.088998 41.688 
L 500.242294 42.564 
L 500.395591 40.812 
L 500.548888 40.812 
L 500.702185 39.936 
L 501.008778 39.936 
L 501.162075 39.06 
L 501.315371 39.936 
L 501.468668 39.936 
L 501.621965 37.308 
L 501.775261 38.184 
L 501.928558 39.936 
L 502.081855 37.308 
L 502.235152 39.06 
L 502.388448 38.184 
L 502.541745 38.184 
L 502.695042 39.06 
L 502.848338 38.184 
L 503.001635 39.936 
L 503.154932 39.06 
L 503.921415 39.06 
L 504.074712 37.308 
L 504.228009 38.184 
L 504.534602 36.432 
L 504.687899 36.432 
L 504.841196 35.556 
L 504.994492 35.556 
L 505.147789 36.432 
L 505.301086 35.556 
L 505.454382 33.804 
L 505.607679 36.432 
L 505.760976 35.556 
L 505.914272 35.556 
L 506.067569 33.804 
L 506.220866 35.556 
L 506.527459 33.804 
L 506.680756 35.556 
L 506.834053 34.68 
L 506.987349 34.68 
L 507.140646 35.556 
L 507.44724 33.804 
L 507.600536 34.68 
L 507.753833 34.68 
L 507.90713 33.804 
L 508.060426 33.804 
L 508.213723 35.556 
L 508.36702 34.68 
L 508.673613 36.432 
L 508.980207 34.68 
L 509.2868 36.432 
L 509.440097 34.68 
L 509.899987 37.308 
L 510.053283 36.432 
L 510.20658 37.308 
L 510.359877 36.432 
L 510.513174 37.308 
L 510.66647 37.308 
L 510.973064 39.06 
L 511.12636 38.184 
L 511.279657 39.06 
L 511.58625 39.06 
L 511.739547 39.936 
L 511.892844 38.184 
L 512.046141 40.812 
L 512.199437 38.184 
L 512.352734 39.936 
L 512.506031 39.06 
L 512.659327 39.06 
L 512.812624 40.812 
L 512.965921 40.812 
L 513.119218 39.936 
L 513.272514 40.812 
L 513.425811 40.812 
L 513.579108 42.564 
L 513.732404 42.564 
L 513.885701 40.812 
L 514.038998 40.812 
L 514.345591 43.44 
L 514.805481 43.44 
L 515.112075 46.068 
L 515.265371 44.316 
L 515.418668 46.068 
L 515.571965 45.192 
L 515.725261 47.82 
L 515.878558 46.944 
L 516.185152 48.696 
L 516.338448 47.82 
L 516.491745 47.82 
L 516.645042 50.448 
L 516.798338 49.572 
L 516.951635 51.324 
L 517.258229 51.324 
L 517.411525 52.2 
L 517.564822 52.2 
L 517.718119 53.952 
L 517.871415 52.2 
L 518.024712 53.076 
L 518.484602 57.456 
L 518.637899 57.456 
L 518.791196 58.332 
L 518.944492 58.332 
L 519.097789 60.084 
L 519.251086 60.084 
L 519.557679 61.836 
L 519.710976 61.836 
L 519.864272 62.712 
L 520.017569 62.712 
L 520.170866 64.464 
L 520.324163 63.588 
L 520.784053 66.216 
L 520.937349 64.464 
L 521.243943 67.092 
L 521.550536 67.092 
L 521.85713 68.844 
L 522.010426 67.968 
L 522.163723 68.844 
L 522.31702 68.844 
L 522.470316 67.968 
L 522.623613 70.596 
L 522.77691 70.596 
L 522.930207 69.72 
L 523.2368 69.72 
L 523.390097 70.596 
L 523.543393 72.348 
L 523.69669 71.472 
L 524.003283 71.472 
L 524.15658 73.224 
L 524.309877 72.348 
L 524.61647 72.348 
L 524.769767 73.224 
L 524.923064 74.976 
L 525.07636 74.1 
L 525.53625 74.1 
L 525.842844 76.728 
L 525.996141 77.604 
L 526.149437 76.728 
L 526.456031 79.356 
L 526.609327 79.356 
L 526.762624 78.48 
L 527.069218 80.232 
L 527.375811 80.232 
L 527.529108 82.86 
L 527.682404 81.108 
L 527.835701 81.984 
L 527.988998 84.612 
L 528.142294 84.612 
L 528.295591 83.736 
L 528.448888 83.736 
L 528.755481 85.488 
L 528.908778 85.488 
L 529.062075 87.24 
L 529.215371 85.488 
L 529.675261 88.116 
L 529.828558 87.24 
L 529.981855 89.868 
L 530.135152 89.868 
L 530.288448 88.992 
L 530.441745 90.744 
L 530.595042 89.868 
L 530.748338 90.744 
L 530.901635 92.496 
L 531.054932 91.62 
L 531.208229 92.496 
L 531.361525 92.496 
L 531.514822 93.372 
L 531.821415 93.372 
L 532.128009 95.124 
L 532.281305 95.124 
L 532.587899 93.372 
L 532.741196 96 
L 532.894492 94.248 
L 533.047789 96 
L 533.201086 96 
L 533.354382 94.248 
L 533.507679 94.248 
L 533.660976 95.124 
L 533.814272 94.248 
L 533.967569 95.124 
L 534.120866 94.248 
L 534.274163 96 
L 534.427459 94.248 
L 534.580756 95.124 
L 535.500536 95.124 
L 535.653833 93.372 
L 535.80713 94.248 
L 535.960426 94.248 
L 536.113723 92.496 
L 536.26702 92.496 
L 536.573613 94.248 
L 537.033503 91.62 
L 537.340097 93.372 
L 537.493393 91.62 
L 537.64669 91.62 
L 537.799987 92.496 
L 537.953283 94.248 
L 538.259877 92.496 
L 538.413174 93.372 
L 538.56647 93.372 
L 538.719767 94.248 
L 538.873064 93.372 
L 539.02636 95.124 
L 539.48625 95.124 
L 539.639547 93.372 
L 539.792844 96 
L 539.946141 94.248 
L 540.099437 95.124 
L 540.252734 95.124 
L 540.406031 94.248 
L 540.559327 95.124 
L 540.865921 92.496 
L 541.019218 93.372 
L 541.172514 92.496 
L 541.325811 93.372 
L 541.479108 92.496 
L 541.632404 94.248 
L 541.785701 92.496 
L 541.938998 92.496 
L 542.092294 90.744 
L 542.245591 92.496 
L 542.705481 92.496 
L 543.012075 89.868 
L 543.165371 91.62 
L 543.318668 90.744 
L 543.471965 91.62 
L 543.625261 90.744 
L 543.778558 90.744 
L 543.931855 91.62 
L 544.085152 91.62 
L 544.238448 89.868 
L 544.391745 92.496 
L 544.545042 90.744 
L 544.698338 90.744 
L 544.851635 91.62 
L 545.158229 89.868 
L 545.311525 89.868 
L 545.464822 91.62 
L 545.618119 88.992 
L 545.771415 89.868 
L 545.924712 88.992 
L 546.078009 89.868 
L 546.231305 89.868 
L 546.384602 88.992 
L 546.537899 87.24 
L 546.691196 87.24 
L 546.844492 88.992 
L 547.151086 87.24 
L 547.304382 87.24 
L 547.457679 88.116 
L 547.610976 88.116 
L 547.764272 88.992 
L 548.070866 86.364 
L 548.224163 86.364 
L 548.377459 87.24 
L 548.530756 86.364 
L 548.684053 87.24 
L 548.837349 86.364 
L 549.29724 88.992 
L 549.450536 87.24 
L 549.603833 88.116 
L 549.75713 88.116 
L 549.910426 89.868 
L 550.063723 88.116 
L 550.21702 89.868 
L 550.370316 89.868 
L 550.67691 88.116 
L 550.830207 88.992 
L 551.1368 88.992 
L 551.290097 87.24 
L 551.749987 87.24 
L 551.903283 86.364 
L 552.05658 86.364 
L 552.209877 85.488 
L 552.363174 87.24 
L 552.51647 87.24 
L 552.669767 85.488 
L 552.823064 86.364 
L 553.129657 86.364 
L 553.282954 87.24 
L 553.43625 87.24 
L 553.589547 85.488 
L 553.742844 86.364 
L 553.896141 84.612 
L 554.049437 87.24 
L 554.202734 87.24 
L 554.356031 85.488 
L 554.509327 86.364 
L 554.662624 83.736 
L 554.815921 85.488 
L 554.969218 84.612 
L 555.122514 86.364 
L 555.275811 84.612 
L 555.582404 84.612 
L 555.735701 85.488 
L 555.888998 85.488 
L 556.042294 86.364 
L 556.195591 86.364 
L 556.348888 87.24 
L 556.502185 87.24 
L 556.655481 88.116 
L 556.808778 87.24 
L 556.962075 88.116 
L 557.268668 88.116 
L 557.421965 86.364 
L 557.575261 88.992 
L 557.728558 88.992 
L 557.881855 87.24 
L 558.035152 88.992 
L 558.188448 88.116 
L 558.341745 88.992 
L 558.495042 87.24 
L 558.801635 89.868 
L 558.954932 89.868 
L 559.108229 88.992 
L 559.261525 88.992 
L 559.414822 90.744 
L 559.721415 88.992 
L 559.874712 91.62 
L 560.028009 89.868 
L 560.181305 89.868 
L 560.334602 90.744 
L 560.487899 90.744 
L 560.641196 92.496 
L 560.794492 90.744 
L 560.947789 91.62 
L 561.101086 91.62 
L 561.254382 90.744 
L 561.407679 92.496 
L 561.560976 90.744 
L 561.714272 90.744 
L 561.867569 89.868 
L 562.020866 89.868 
L 562.174163 88.992 
L 562.327459 89.868 
L 562.480756 88.992 
L 562.787349 90.744 
L 562.940646 90.744 
L 563.093943 88.116 
L 563.24724 89.868 
L 563.400536 89.868 
L 563.553833 90.744 
L 563.70713 89.868 
L 563.860426 90.744 
L 564.013723 90.744 
L 564.16702 88.992 
L 564.320316 90.744 
L 564.473613 90.744 
L 564.62691 88.992 
L 564.780207 89.868 
L 564.933503 89.868 
L 565.0868 88.992 
L 565.240097 89.868 
L 565.393393 89.868 
L 565.54669 90.744 
L 565.699987 88.992 
L 565.853283 89.868 
L 566.00658 88.992 
L 566.159877 89.868 
L 566.46647 88.116 
L 566.773064 89.868 
L 566.92636 88.992 
L 567.232954 88.992 
L 567.38625 88.116 
L 567.539547 88.116 
L 567.692844 89.868 
L 567.846141 88.992 
L 567.999437 89.868 
L 568.152734 88.992 
L 568.459327 88.992 
L 568.765921 90.744 
L 568.919218 89.868 
L 569.072514 90.744 
L 569.225811 90.744 
L 569.379108 89.868 
L 569.532404 90.744 
L 569.685701 89.868 
L 569.838998 91.62 
L 569.992294 88.992 
L 570.145591 89.868 
L 570.452185 89.868 
L 570.605481 88.992 
L 570.758778 89.868 
L 570.912075 88.992 
L 571.065371 89.868 
L 571.371965 89.868 
L 571.525261 88.992 
L 571.678558 89.868 
L 572.291745 89.868 
L 572.598338 86.364 
L 572.751635 88.116 
L 572.904932 86.364 
L 573.058229 87.24 
L 573.211525 85.488 
L 573.671415 88.116 
L 573.824712 87.24 
L 573.978009 87.24 
L 574.131305 88.116 
L 574.284602 88.116 
L 574.437899 89.868 
L 574.591196 88.992 
L 574.744492 89.868 
L 574.897789 89.868 
L 575.051086 88.116 
L 575.204382 89.868 
L 575.357679 89.868 
L 575.664272 91.62 
L 575.817569 90.744 
L 575.970866 91.62 
L 576.124163 89.868 
L 576.584053 89.868 
L 576.737349 88.116 
L 577.043943 88.116 
L 577.19724 88.992 
L 577.65713 88.992 
L 577.810426 88.116 
L 577.963723 91.62 
L 578.11702 90.744 
L 578.270316 92.496 
L 578.423613 92.496 
L 578.730207 90.744 
L 578.883503 92.496 
L 579.0368 89.868 
L 579.190097 91.62 
L 579.343393 89.868 
L 579.49669 90.744 
L 579.649987 89.868 
L 579.803283 89.868 
L 579.95658 90.744 
L 580.109877 88.992 
L 580.263174 90.744 
L 580.569767 88.992 
L 580.723064 87.24 
L 580.87636 88.116 
L 581.029657 87.24 
L 581.182954 85.488 
L 581.33625 86.364 
L 581.489547 86.364 
L 581.642844 88.116 
L 581.796141 87.24 
L 581.796141 87.24 
" clip-path="url(#pb94ecb44f5)" style="fill: none; stroke: #0000ff; stroke-width: 1.65; stroke-linecap: square"/>
   </g>
   <g id="line2d_42">
    <path d="M 93.36 184.08 L 93.36 26.16" clip-path="url(#pb94ecb44f5)" style="fill: none; stroke-dasharray: 5.55,2.4; stroke-dashoffset: 0; stroke: #000000; stroke-width: 1.5"/>
   </g>
   <g id="line2d_43">
    <path d="M 166.8 184.08 L 166.8 26.16" clip-path="url(#pb94ecb44f5)" style="fill: none; stroke-dasharray: 5.55,2.4; stroke-dashoffset: 0; stroke: #000000; stroke-width: 1.5"/>
   </g>
   <g id="line2d_44">
    <path d="M 240.72 184.08 L 240.72 26.16" clip-path="url(#pb94ecb44f5)" style="fill: none; stroke-dasharray: 5.55,2.4; stroke-dashoffset: 0; stroke: #000000; stroke-width: 1.5"/>
   </g>
   <g id="line2d_45">
    <path d="M 314.16 184.08 L 314.16 26.16" clip-path="url(#pb94ecb44f5)" style="fill: none; stroke-dasharray: 5.55,2.4; stroke-dashoffset: 0; stroke: #000000; stroke-width: 1.5"/>
   </g>
   <g id="line2d_46">
    <path d="M 387.6 184.08 L 387.6 26.16" clip-path="url(#pb94ecb44f5)" style="fill: none; stroke-dasharray: 5.55,2.4; stroke-dashoffset: 0; stroke: #000000; stroke-width: 1.5"/>
   </g>
   <g id="line2d_47">
    <path d="M 461.52 184.08 L 461.52 26.16" clip-path="url(#pb94ecb44f5)" style="fill: none; stroke-dasharray: 5.55,2.4; stroke-dashoffset: 0; stroke: #000000; stroke-width: 1.5"/>
   </g>
   <g id="line2d_48">
    <path d="M 534.96 184.08 L 534.96 26.16" clip-path="url(#pb94ecb44f5)" style="fill: none; stroke-dasharray: 5.55,2.4; stroke-dashoffset: 0; stroke: #000000; stroke-width: 1.5"/>
   </g>
   <g id="patch_11">
    <path d="M 90.24 183.84 L 90.24 25.92" style="fill: none; stroke: #000000; stroke-width: 0.8; stroke-linejoin: miter; stroke-linecap: square"/>
   </g>
   <g id="patch_12">
    <path d="M 648 183.84 L 648 25.92" style="fill: none; stroke: #000000; stroke-width: 0.8; stroke-linejoin: miter; stroke-linecap: square"/>
   </g>
   <g id="patch_13">
    <path d="M 90.24 183.84 L 648 183.84" style="fill: none; stroke: #000000; stroke-width: 0.8; stroke-linejoin: miter; stroke-linecap: square"/>
   </g>
   <g id="patch_14">
    <path d="M 90.24 25.92 L 648 25.92" style="fill: none; stroke: #000000; stroke-width: 0.8; stroke-linejoin: miter; stroke-linecap: square"/>
   </g>
   <g id="text_23">
    <text style="font-size: 7px; font-family: 'DejaVu Sans', 'Bitstream Vera Sans', 'Computer Modern Sans Serif', 'Lucida Grande', 'Verdana', 'Geneva', 'Lucid', 'Arial', 'Helvetica', 'Avant Garde', sans-serif; text-anchor: start; fill: #333333" x="95.839385" y="41.867562" transform="rotate(-0 95.839385 41.867562)">10/15</text>
   </g>
   <g id="text_24">
    <text style="font-size: 7px; font-family: 'DejaVu Sans', 'Bitstream Vera Sans', 'Computer Modern Sans Serif', 'Lucida Grande', 'Verdana', 'Geneva', 'Lucid', 'Arial', 'Helvetica', 'Avant Garde', sans-serif; text-anchor: start; fill: #333333" x="169.279385" y="41.867562" transform="rotate(-0 169.279385 41.867562)">10/16</text>
   </g>
   <g id="text_25">
    <text style="font-size: 7px; font-family: 'DejaVu Sans', 'Bitstream Vera Sans', 'Computer Modern Sans Serif', 'Lucida Grande', 'Verdana', 'Geneva', 'Lucid', 'Arial', 'Helvetica', 'Avant Garde', sans-serif; text-anchor: start; fill: #333333" x="243.199385" y="41.867562" transform="rotate(-0 243.199385 41.867562)">10/17</text>
   </g>
   <g id="text_26">
    <text style="font-size: 7px; font-family: 'DejaVu Sans', 'Bitstream Vera Sans', 'Computer Modern Sans Serif', 'Lucida Grande', 'Verdana', 'Geneva', 'Lucid', 'Arial', 'Helvetica', 'Avant Garde', sans-serif; text-anchor: start; fill: #333333" x="316.639385" y="41.867562" transform="rotate(-0 316.639385 41.867562)">10/18</text>
   </g>
   <g id="text_27">
    <text style="font-size: 7px; font-family: 'DejaVu Sans', 'Bitstream Vera Sans', 'Computer Modern Sans Serif', 'Lucida Grande', 'Verdana', 'Geneva', 'Lucid', 'Arial', 'Helvetica', 'Avant Garde', sans-serif; text-anchor: start; fill: #333333" x="390.079385" y="41.867562" transform="rotate(-0 390.079385 41.867562)">10/19</text>
   </g>
   <g id="text_28">
    <text style="font-size: 7px; font-family: 'DejaVu Sans', 'Bitstream Vera Sans', 'Computer Modern Sans Serif', 'Lucida Grande', 'Verdana', 'Geneva', 'Lucid', 'Arial', 'Helvetica', 'Avant Garde', sans-serif; text-anchor: start; fill: #333333" x="463.999385" y="41.867562" transform="rotate(-0 463.999385 41.867562)">10/20</text>
   </g>
   <g id="text_29">
    <text style="font-size: 7px; font-family: 'DejaVu Sans', 'Bitstream Vera Sans', 'Computer Modern Sans Serif', 'Lucida Grande', 'Verdana', 'Geneva', 'Lucid', 'Arial', 'Helvetica', 'Avant Garde', sans-serif; text-anchor: start; fill: #333333" x="537.439385" y="41.867562" transform="rotate(-0 537.439385 41.867562)">10/21</text>
   </g>
   <g id="legend_1">
    <g id="patch_15">
     <path d="M 92 23.08176 
L 292.004687 23.08176 
Q 294.004687 23.08176 294.004687 21.08176 
L 294.004687 7.403635 
Q 294.004687 5.403635 292.004687 5.403635 
L 92 5.403635 
Q 90 5.403635 90 7.403635 
L 90 21.08176 
Q 90 23.08176 92 23.08176 
z
" style="fill: #ffffff; opacity: 0.8; stroke: #cccccc; stroke-linejoin: miter"/>
    </g>
    <g id="line2d_49">
     <path d="M 94.32 13.68 L 104.4 13.68 L 114.48 13.68" style="fill: none; stroke: #0000ff; stroke-width: 1.5; stroke-linecap: square"/>
    </g>
    <g id="text_30">
     <text style="font-size: 10px; font-family: 'DejaVu Sans', 'Bitstream Vera Sans', 'Computer Modern Sans Serif', 'Lucida Grande', 'Verdana', 'Geneva', 'Lucid', 'Arial', 'Helvetica', 'Avant Garde', sans-serif; text-anchor: start" x="122" y="17.002072" transform="rotate(-0 122 17.002072)">2m MSL Pressure</text>
    </g>
    <g id="patch_16">
     <path d="M 230.4 16.8 L 250.08 16.8 L 250.08 10.08 L 230.4 10.08 z" style="fill: #d3d3d3; fill-opacity: 0.5; stroke: #d3d3d3; stroke-opacity: 0.5; stroke-linejoin: miter"/>
    </g>
    <g id="text_31">
     <text style="font-size: 10px; font-family: 'DejaVu Sans', 'Bitstream Vera Sans', 'Computer Modern Sans Serif', 'Lucida Grande', 'Verdana', 'Geneva', 'Lucid', 'Arial', 'Helvetica', 'Avant Garde', sans-serif; text-anchor: start" x="258.196875" y="17.002072" transform="rotate(-0 258.196875 17.002072)">NIGHT</text>
    </g>
   </g>
  </g>
  <g id="axes_2">
   <g id="matplotlib.axis_3">
    <g id="ytick_7">
     <g id="line2d_50">
      <defs>
       <path id="m33c4ce201d" d="M 0 0 
L 3.5 0 
" style="stroke: #000000; stroke-width: 0.8"/>
      </defs>
      <g>
       <use href="#m33c4ce201d" x="648" y="183.84" style="stroke: #000000; stroke-width: 0.8"/>
      </g>
     </g>
     <g id="text_32">
      <text style="font-size: 10px; font-family: 'DejaVu Sans', 'Bitstream Vera Sans', 'Computer Modern Sans Serif', 'Lucida Grande', 'Verdana', 'Geneva', 'Lucid', 'Arial', 'Helvetica', 'Avant Garde', sans-serif; text-anchor: start" x="655" y="187.399219" transform="rotate(-0 655 187.399219)">29.71</text>
     </g>
    </g>
    <g id="ytick_8">
     <g id="line2d_51">
      <g>
       <use href="#m33c4ce201d" x="648" y="152.16" style="stroke: #000000; stroke-width: 0.8"/>
      </g>
     </g>
     <g id="text_33">
      <text style="font-size: 10px; font-family: 'DejaVu Sans', 'Bitstream Vera Sans', 'Computer Modern Sans Serif', 'Lucida Grande', 'Verdana', 'Geneva', 'Lucid', 'Arial', 'Helvetica', 'Avant Garde', sans-serif; text-anchor: start" x="655" y="155.863219" transform="rotate(-0 655 155.863219)">29.82</text>
     </g>
    </g>
    <g id="ytick_9">
     <g id="line2d_52">
      <g>
       <use href="#m33c4ce201d" x="648" y="120.48" style="stroke: #000000; stroke-width: 0.8"/>
      </g>
     </g>
     <g id="text_34">
      <text style="font-size: 10px; font-family: 'DejaVu Sans', 'Bitstream Vera Sans', 'Computer Modern Sans Serif', 'Lucida Grande', 'Verdana', 'Geneva', 'Lucid', 'Arial', 'Helvetica', 'Avant Garde', sans-serif; text-anchor: start" x="655" y="124.327219" transform="rotate(-0 655 124.327219)">29.92</text>
     </g>
    </g>
    <g id="ytick_10">
     <g id="line2d_53">
      <g>
       <use href="#m33c4ce201d" x="648" y="88.8" style="stroke: #000000; stroke-width: 0.8"/>
      </g>
     </g>
     <g id="text_35">
      <text style="font-size: 10px; font-family: 'DejaVu Sans', 'Bitstream Vera Sans', 'Computer Modern Sans Serif', 'Lucida Grande', 'Verdana', 'Geneva', 'Lucid', 'Arial', 'Helvetica', 'Avant Garde', sans-serif; text-anchor: start" x="655" y="92.791219" transform="rotate(-0 655 92.791219)">30.03</text>
     </g>
    </g>
    <g id="ytick_11">
     <g id="line2d_54">
      <g>
       <use href="#m33c4ce201d" x="648" y="57.6" style="stroke: #000000; stroke-width: 0.8"/>
      </g>
     </g>
     <g id="text_36">
      <text style="font-size: 10px; font-family: 'DejaVu Sans', 'Bitstream Vera Sans', 'Computer Modern Sans Serif', 'Lucida Grande', 'Verdana', 'Geneva', 'Lucid', 'Arial', 'Helvetica', 'Avant Garde', sans-serif; text-anchor: start" x="655" y="61.255219" transform="rotate(-0 655 61.255219)">30.14</text>
     </g>
    </g>
    <g id="ytick_12">
     <g id="line2d_55">
      <g>
       <use href="#m33c4ce201d" x="648" y="25.92" style="stroke: #000000; stroke-width: 0.8"/>
      </g>
     </g>
     <g id="text_37">
      <text style="font-size: 10px; font-family: 'DejaVu Sans', 'Bitstream Vera Sans', 'Computer Modern Sans Serif', 'Lucida Grande', 'Verdana', 'Geneva', 'Lucid', 'Arial', 'Helvetica', 'Avant Garde', sans-serif; text-anchor: start" x="655" y="29.719219" transform="rotate(-0 655 29.719219)">30.24</text>
     </g>
    </g>
    <g id="text_38">
     <text style="font-size: 10px; font-family: 'DejaVu Sans', 'Bitstream Vera Sans', 'Computer Modern Sans Serif', 'Lucida Grande', 'Verdana', 'Geneva', 'Lucid', 'Arial', 'Helvetica', 'Avant Garde', sans-serif; text-anchor: middle" x="695.226562" y="104.76" transform="rotate(-90 695.226562 104.76)">Inches of Mercury</text>
    </g>
   </g>
   <g id="patch_17">
    <path d="M 90.24 183.84 L 90.24 25.92" style="fill: none; stroke: #000000; stroke-width: 0.8; stroke-linejoin: miter; stroke-linecap: square"/>
   </g>
   <g id="patch_18">
    <path d="M 648 183.84 L 648 25.92" style="fill: none; stroke: #000000; stroke-width: 0.8; stroke-linejoin: miter; stroke-linecap: square"/>
   </g>
   <g id="patch_19">
    <path d="M 90.24 183.84 L 648 183.84" style="fill: none; stroke: #000000; stroke-width: 0.8; stroke-linejoin: miter; stroke-linecap: square"/>
   </g>
   <g id="patch_20">
    <path d="M 90.24 25.92 L 648 25.92" style="fill: none; stroke: #000000; stroke-width: 0.8; stroke-linejoin: miter; stroke-linecap: square"/>
   </g>
  </g>
 </g>
 <defs>
  <clipPath id="pb94ecb44f5">
   <rect x="90" y="25.92" width="558" height="157.68"/>
  </clipPath>
 </defs>
</svg>

</body></html>
